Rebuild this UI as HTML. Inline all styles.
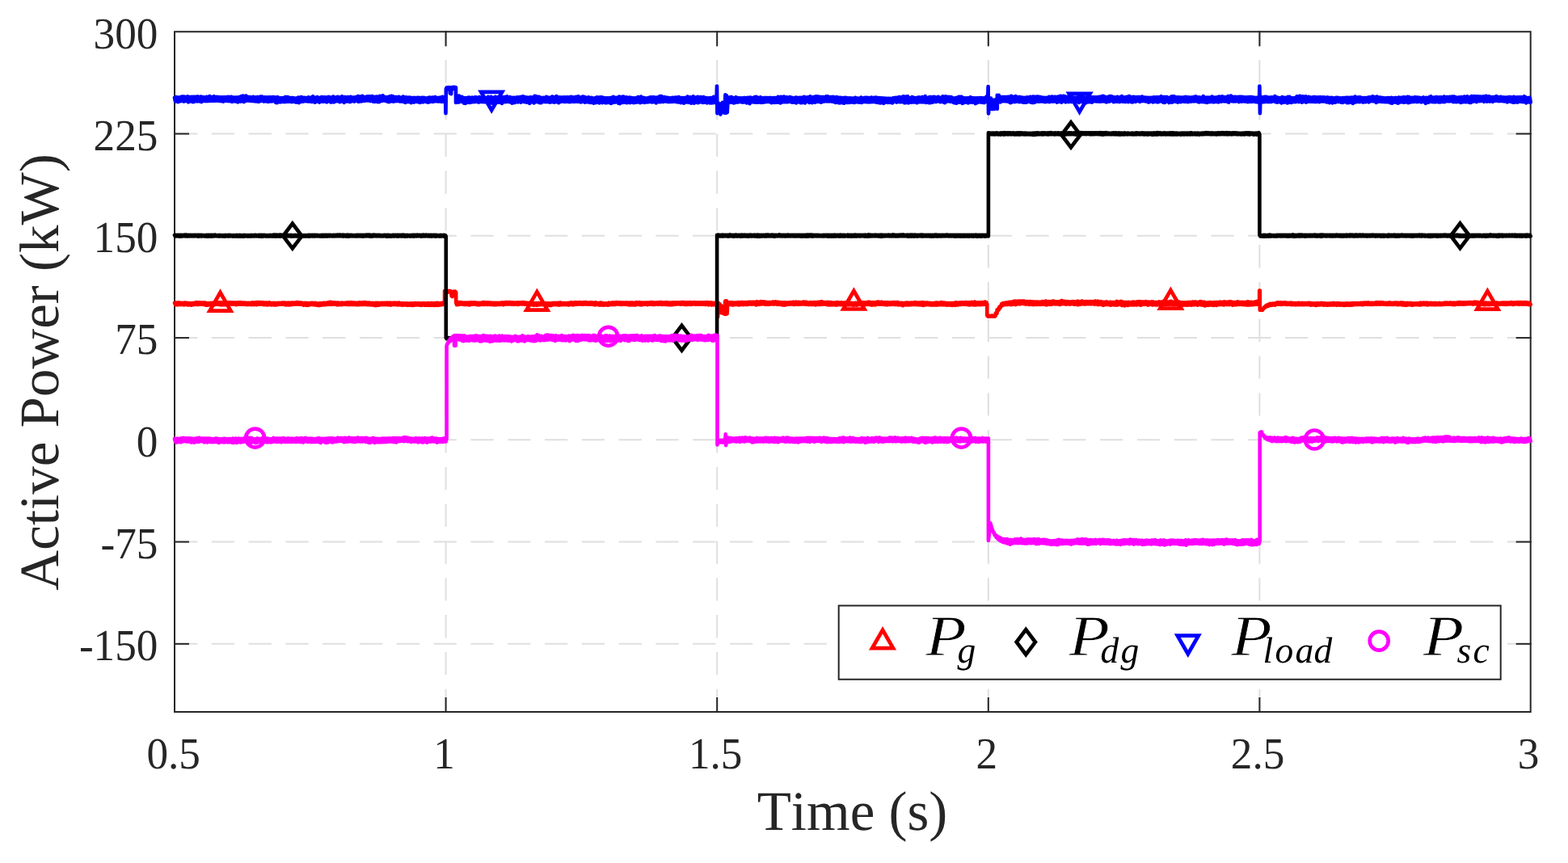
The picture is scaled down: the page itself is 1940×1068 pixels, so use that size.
<!DOCTYPE html>
<html lang="en"><head><meta charset="utf-8"><title>Active Power</title>
<style>html,body{margin:0;padding:0;background:#fff;}body{width:1940px;height:1068px;overflow:hidden;}svg{display:block;}text{font-family:"Liberation Serif","DejaVu Serif",serif;fill:#262626;font-kerning:none;text-rendering:geometricPrecision;}.tk{font-size:54px;}.lb{font-size:69px;}.lg{font-style:italic;fill:#000;}</style></head><body>
<svg width="1940" height="1068" viewBox="0 0 1940 1068">
<rect width="1940" height="1068" fill="#fff"/>
<g stroke="#dfdfdf" stroke-width="2" stroke-dasharray="28.3 17.5" fill="none"><line x1="551.60" y1="881.00" x2="551.60" y2="39.30"/><line x1="887.20" y1="881.00" x2="887.20" y2="39.30"/><line x1="1222.80" y1="881.00" x2="1222.80" y2="39.30"/><line x1="1558.40" y1="881.00" x2="1558.40" y2="39.30"/><line x1="216.00" y1="165.56" x2="1894.00" y2="165.56"/><line x1="216.00" y1="291.81" x2="1894.00" y2="291.81"/><line x1="216.00" y1="418.07" x2="1894.00" y2="418.07"/><line x1="216.00" y1="544.32" x2="1894.00" y2="544.32"/><line x1="216.00" y1="670.58" x2="1894.00" y2="670.58"/><line x1="216.00" y1="796.83" x2="1894.00" y2="796.83"/></g>
<g stroke="#262626" stroke-width="2" fill="none" stroke-linecap="square">
<path d="M216.0,881.0 L216.0,39.3 L1893.7,39.3 L1893.7,881.0 Z"/>
<line x1="551.60" y1="881.0" x2="551.60" y2="864.0"/><line x1="551.60" y1="39.3" x2="551.60" y2="56.3"/>
<line x1="887.20" y1="881.0" x2="887.20" y2="864.0"/><line x1="887.20" y1="39.3" x2="887.20" y2="56.3"/>
<line x1="1222.80" y1="881.0" x2="1222.80" y2="864.0"/><line x1="1222.80" y1="39.3" x2="1222.80" y2="56.3"/>
<line x1="1558.40" y1="881.0" x2="1558.40" y2="864.0"/><line x1="1558.40" y1="39.3" x2="1558.40" y2="56.3"/>
<line x1="216.0" y1="165.56" x2="233.0" y2="165.56"/><line x1="1893.7" y1="165.56" x2="1876.7" y2="165.56"/>
<line x1="216.0" y1="291.81" x2="233.0" y2="291.81"/><line x1="1893.7" y1="291.81" x2="1876.7" y2="291.81"/>
<line x1="216.0" y1="418.07" x2="233.0" y2="418.07"/><line x1="1893.7" y1="418.07" x2="1876.7" y2="418.07"/>
<line x1="216.0" y1="544.32" x2="233.0" y2="544.32"/><line x1="1893.7" y1="544.32" x2="1876.7" y2="544.32"/>
<line x1="216.0" y1="670.58" x2="233.0" y2="670.58"/><line x1="1893.7" y1="670.58" x2="1876.7" y2="670.58"/>
<line x1="216.0" y1="796.83" x2="233.0" y2="796.83"/><line x1="1893.7" y1="796.83" x2="1876.7" y2="796.83"/>
</g>
<polyline points="216.0,374.8 216.9,377.0 217.8,374.7 218.7,377.1 219.6,374.7 220.5,377.2 221.4,374.4 222.3,377.0 223.2,374.9 224.1,377.0 225.0,374.8 225.9,376.9 226.8,374.8 227.7,377.3 228.6,374.5 229.5,376.7 230.4,374.9 231.3,377.1 232.2,374.9 233.1,377.4 234.0,375.0 234.9,377.2 235.8,375.4 236.7,377.6 237.6,375.2 238.5,377.1 239.4,374.9 240.3,376.9 241.2,374.8 242.1,376.6 243.0,374.2 243.9,376.8 244.8,374.5 245.7,376.8 246.6,374.5 247.5,376.6 248.4,374.6 249.3,376.6 250.2,374.6 251.1,376.7 252.0,374.7 252.9,377.0 253.8,374.5 254.7,377.7 255.6,375.1 256.5,377.7 257.4,375.2 258.3,377.3 259.2,375.1 260.1,377.1 261.0,374.9 261.9,376.9 262.8,374.8 263.7,376.9 264.6,374.8 265.5,377.1 266.4,374.5 267.3,376.5 268.2,374.0 269.1,376.7 270.0,374.4 270.9,377.0 271.8,374.4 272.7,377.1 273.6,374.2 274.5,377.4 275.4,374.7 276.3,377.0 277.2,374.7 278.1,377.1 279.0,374.3 279.9,377.1 280.8,374.5 281.7,377.0 282.6,374.3 283.5,376.5 284.4,374.3 285.3,376.3 286.2,374.4 287.1,376.6 288.0,374.5 288.9,376.6 289.8,374.3 290.7,376.7 291.6,374.6 292.5,377.1 293.4,374.3 294.3,376.7 295.2,374.6 296.1,376.7 297.0,374.2 297.9,376.6 298.8,374.5 299.8,376.6 300.7,374.6 301.6,376.7 302.5,374.7 303.4,376.8 304.3,374.8 305.2,376.9 306.1,374.9 307.0,377.0 307.9,374.9 308.8,376.8 309.7,374.8 310.6,377.0 311.5,374.5 312.4,376.8 313.3,374.5 314.2,377.1 315.1,374.5 316.0,377.0 316.9,374.2 317.8,377.2 318.7,374.0 319.6,376.7 320.5,374.2 321.4,376.6 322.3,374.2 323.2,376.5 324.1,374.4 325.0,376.5 325.9,374.3 326.8,377.2 327.7,374.6 328.6,376.9 329.5,374.5 330.4,377.3 331.3,374.8 332.2,377.0 333.1,374.3 334.0,377.0 334.9,374.9 335.8,377.4 336.7,375.0 337.6,377.1 338.5,375.0 339.4,377.3 340.3,375.0 341.2,377.4 342.1,375.0 343.0,377.1 343.9,375.0 344.8,376.8 345.7,374.9 346.6,376.7 347.5,374.8 348.4,376.7 349.3,374.7 350.2,376.6 351.1,374.6 352.0,376.8 352.9,374.7 353.8,377.3 354.7,374.8 355.6,377.0 356.5,374.6 357.4,377.3 358.3,374.8 359.2,377.1 360.1,374.7 361.0,377.1 361.9,374.7 362.8,376.7 363.7,374.7 364.6,376.7 365.5,374.7 366.4,376.5 367.3,374.0 368.2,376.5 369.1,374.3 370.0,376.5 370.9,374.5 371.8,376.6 372.7,374.7 373.6,376.7 374.5,375.0 375.4,377.6 376.3,375.0 377.2,377.3 378.1,375.0 379.0,377.7 379.9,375.0 380.8,377.8 381.7,375.1 382.6,377.4 383.5,375.0 384.4,377.0 385.3,374.9 386.2,376.9 387.1,374.8 388.0,377.1 388.9,375.0 389.8,377.4 390.7,374.9 391.6,377.4 392.5,375.5 393.4,377.9 394.3,375.5 395.2,378.0 396.1,375.2 397.0,377.7 397.9,375.3 398.8,377.3 399.7,374.8 400.6,377.2 401.5,375.0 402.4,377.2 403.3,374.9 404.2,376.9 405.1,374.6 406.0,376.7 406.9,374.1 407.8,376.6 408.7,373.8 409.6,376.8 410.5,374.2 411.4,376.6 412.3,374.4 413.2,376.5 414.1,374.5 415.0,376.5 415.9,374.6 416.8,377.1 417.7,374.5 418.6,377.2 419.5,374.9 420.4,377.0 421.3,374.9 422.2,377.1 423.1,374.6 424.0,376.8 424.9,374.8 425.8,376.5 426.7,374.8 427.6,376.7 428.5,374.6 429.4,376.9 430.3,374.4 431.2,376.9 432.1,374.4 433.0,377.0 433.9,374.3 434.8,376.8 435.7,374.5 436.6,376.9 437.5,374.7 438.4,376.9 439.3,374.7 440.2,377.0 441.1,374.8 442.0,377.0 442.9,374.7 443.8,377.1 444.7,374.3 445.6,376.9 446.5,374.5 447.4,376.9 448.3,374.5 449.2,376.8 450.1,374.1 451.0,376.8 451.9,374.1 452.8,376.8 453.7,374.6 454.6,377.2 455.5,374.7 456.4,377.0 457.3,374.7 458.2,377.1 459.1,375.1 460.0,377.4 460.9,374.9 461.8,377.3 462.7,375.4 463.6,377.9 464.5,374.9 465.4,378.1 466.3,374.8 467.3,377.7 468.2,374.9 469.1,377.6 470.0,375.0 470.9,377.1 471.8,375.0 472.7,377.0 473.6,375.0 474.5,377.0 475.4,375.0 476.3,377.0 477.2,375.0 478.1,376.9 479.0,374.7 479.9,377.2 480.8,374.8 481.7,377.1 482.6,374.6 483.5,377.6 484.4,374.9 485.3,377.0 486.2,375.0 487.1,376.9 488.0,374.7 488.9,376.9 489.8,374.9 490.7,377.2 491.6,374.9 492.5,377.3 493.4,374.5 494.3,377.1 495.2,375.1 496.1,377.3 497.0,375.2 497.9,377.5 498.8,375.4 499.7,377.4 500.6,375.4 501.5,377.4 502.4,375.5 503.3,377.6 504.2,375.5 505.1,377.7 506.0,375.6 506.9,377.7 507.8,375.5 508.7,377.7 509.6,375.5 510.5,377.8 511.4,375.4 512.3,377.7 513.2,375.0 514.1,377.4 515.0,375.3 515.9,377.3 516.8,375.2 517.7,377.3 518.6,375.3 519.5,377.5 520.4,375.3 521.3,377.8 522.2,375.3 523.1,377.4 524.0,375.2 524.9,377.5 525.8,375.3 526.7,377.6 527.6,375.4 528.5,377.6 529.4,375.0 530.3,377.7 531.2,375.4 532.1,377.8 533.0,375.0 533.9,377.7 534.8,375.2 535.7,377.7 536.6,375.4 537.5,377.9 538.4,375.2 539.3,377.6 540.2,374.9 541.1,377.8 542.0,374.9 542.9,377.6 543.8,375.3 544.7,377.4 545.6,375.0 546.5,377.2 547.4,374.9 548.3,376.8 549.2,374.5 550.1,376.7 550.1,360.1 551.0,361.1 552.0,360.1 552.9,361.2 553.9,360.1 554.8,361.5 555.8,359.9 556.7,361.4 557.7,360.2 558.6,361.4 558.6,366.2 559.6,367.1 560.6,366.2 560.6,361.8 561.5,360.7 562.4,361.8 563.3,360.8 564.2,361.8 564.2,374.6 565.1,377.1 566.0,374.0 566.9,377.1 567.8,374.0 568.7,376.6 569.6,374.1 570.5,376.5 571.4,374.3 572.3,376.5 573.2,374.7 574.1,376.9 575.0,374.6 575.9,376.9 576.8,374.6 577.7,376.9 578.6,374.7 579.5,377.2 580.4,374.7 581.3,377.3 582.2,374.3 583.1,376.7 584.0,374.3 584.9,376.6 585.8,374.5 586.7,376.4 587.6,374.3 588.5,376.6 589.4,374.7 590.3,377.0 591.2,374.8 592.1,377.1 593.0,374.9 593.9,377.1 594.8,374.8 595.7,376.7 596.6,374.5 597.5,376.8 598.4,374.0 599.3,376.8 600.2,374.3 601.1,376.6 602.0,374.4 602.9,376.8 603.8,374.5 604.7,376.7 605.6,374.6 606.5,377.0 607.4,374.7 608.3,376.9 609.2,374.8 610.1,377.0 611.0,374.9 611.9,377.1 612.8,374.9 613.7,377.1 614.6,374.9 615.5,377.0 616.4,374.9 617.3,376.9 618.2,374.9 619.1,376.8 620.0,374.6 620.9,376.7 621.8,374.5 622.7,377.2 623.6,374.5 624.5,376.6 625.4,374.2 626.3,376.3 627.2,374.1 628.1,376.5 629.0,374.1 629.9,376.3 630.8,374.2 631.7,376.4 632.6,374.3 633.5,376.6 634.4,374.4 635.3,376.7 636.2,374.6 637.1,376.6 638.0,374.6 638.9,376.4 639.8,374.5 640.7,376.8 641.6,374.4 642.5,376.5 643.4,374.3 644.3,376.4 645.2,374.4 646.1,376.4 647.0,374.0 647.9,376.4 648.8,374.5 649.7,376.7 650.6,374.6 651.5,376.6 652.4,374.8 653.3,376.7 654.2,374.9 655.1,377.0 656.0,374.9 656.9,377.2 657.8,374.6 658.7,377.1 659.6,375.1 660.5,377.6 661.4,375.1 662.3,377.5 663.2,375.1 664.1,377.6 665.0,375.1 665.9,377.4 666.8,375.2 667.7,377.2 668.6,375.1 669.5,377.1 670.4,375.1 671.3,377.1 672.2,375.1 673.1,377.1 674.0,375.2 674.9,377.3 675.8,375.3 676.7,377.7 677.6,375.4 678.5,377.5 679.4,375.3 680.3,378.0 681.2,375.4 682.1,377.9 683.0,375.2 683.9,377.1 684.8,375.0 685.7,377.0 686.6,374.8 687.5,377.0 688.4,375.0 689.3,377.1 690.2,375.0 691.1,377.3 692.0,374.7 692.9,377.4 693.8,374.5 694.7,377.1 695.6,375.1 696.5,377.0 697.4,375.1 698.3,377.0 699.2,375.2 700.1,377.0 701.0,375.2 701.9,377.2 702.8,374.9 703.7,377.3 704.6,375.0 705.5,377.0 706.4,374.3 707.3,377.0 708.2,374.6 709.1,377.3 710.0,374.6 710.9,376.9 711.8,374.2 712.7,376.5 713.6,374.4 714.5,376.6 715.4,374.3 716.3,376.4 717.2,374.1 718.1,376.3 719.0,374.4 719.9,376.6 720.8,374.3 721.7,376.7 722.6,374.2 723.5,376.4 724.4,374.0 725.3,376.4 726.3,374.5 727.2,376.6 728.1,374.6 729.0,376.6 729.9,374.4 730.8,376.5 731.7,374.3 732.6,376.7 733.5,374.7 734.4,376.9 735.3,374.6 736.2,377.3 737.1,374.3 738.0,376.9 738.9,375.0 739.8,377.0 740.7,375.1 741.6,377.4 742.5,374.7 743.4,377.5 744.3,374.6 745.2,377.5 746.1,375.2 747.0,377.6 747.9,375.3 748.8,377.4 749.7,375.3 750.6,377.4 751.5,375.4 752.4,377.6 753.3,374.7 754.2,377.0 755.1,374.8 756.0,376.8 756.9,374.6 757.8,377.0 758.7,374.4 759.6,376.9 760.5,374.5 761.4,376.8 762.3,374.0 763.2,376.5 764.1,374.4 765.0,376.3 765.9,374.3 766.8,376.6 767.7,374.5 768.6,376.9 769.5,374.5 770.4,376.7 771.3,374.6 772.2,376.7 773.1,374.6 774.0,376.7 774.9,374.4 775.8,376.9 776.7,374.7 777.6,377.0 778.5,374.7 779.4,377.4 780.3,374.5 781.2,377.2 782.1,374.5 783.0,377.1 783.9,374.9 784.8,377.4 785.7,374.7 786.6,377.3 787.5,374.2 788.4,376.8 789.3,374.7 790.2,376.8 791.1,374.2 792.0,377.1 792.9,374.6 793.8,377.4 794.7,374.6 795.6,376.8 796.5,374.7 797.4,376.6 798.3,374.6 799.2,376.7 800.1,374.7 801.0,377.0 801.9,374.5 802.8,376.6 803.7,374.6 804.6,376.6 805.5,374.0 806.4,376.6 807.3,374.4 808.2,377.0 809.1,374.4 810.0,376.9 810.9,374.5 811.8,376.5 812.7,374.3 813.6,376.5 814.5,374.3 815.4,376.5 816.3,374.0 817.2,376.4 818.1,374.2 819.0,376.9 819.9,374.3 820.8,376.6 821.7,374.4 822.6,376.7 823.5,374.3 824.4,377.0 825.3,374.1 826.2,377.0 827.1,374.7 828.0,377.1 828.9,374.7 829.8,377.1 830.7,374.7 831.6,377.2 832.5,374.4 833.4,376.9 834.3,374.3 835.2,376.5 836.1,374.5 837.0,376.4 837.9,374.3 838.8,376.4 839.7,374.4 840.6,376.3 841.5,374.4 842.4,376.7 843.3,374.0 844.2,376.4 845.1,374.1 846.0,376.6 846.9,374.2 847.8,376.8 848.7,374.4 849.6,377.0 850.5,374.3 851.4,376.6 852.3,374.5 853.2,376.7 854.1,374.1 855.0,376.8 855.9,374.4 856.8,376.5 857.7,374.4 858.6,376.4 859.5,374.2 860.4,376.5 861.3,374.5 862.2,376.6 863.1,374.5 864.0,376.7 864.9,374.4 865.8,376.5 866.7,374.5 867.6,376.6 868.5,374.5 869.4,376.5 870.3,374.3 871.2,376.6 872.1,374.4 873.0,377.0 873.9,374.1 874.8,376.6 875.7,374.1 876.6,377.3 877.5,374.5 878.4,376.9 879.3,374.3 880.2,377.5 881.1,374.7 882.0,377.2 882.9,374.8 883.8,377.1 884.7,374.8 885.6,376.8 886.5,374.7 887.4,376.9 888.1,392.3 888.1,392.3 888.8,374.8 889.7,385.9 890.6,376.4 891.5,387.0 892.5,378.2 893.4,387.5 894.3,379.2 895.2,387.9 895.6,380.2 895.6,380.2 896.4,388.8 896.4,388.8 897.2,372.6 897.2,372.6 898.0,388.9 898.0,388.9 898.8,372.3 898.8,372.3 899.6,388.4 899.6,388.4 900.4,374.3 901.3,376.9 902.2,374.1 903.1,376.7 904.0,374.5 904.9,377.2 905.8,374.3 906.7,377.5 907.6,374.6 908.5,377.1 909.4,374.5 910.3,377.0 911.2,374.6 912.1,376.9 913.0,374.2 913.9,377.5 914.8,374.3 915.7,377.1 916.6,374.0 917.5,377.0 918.4,374.0 919.3,377.1 920.2,374.3 921.1,376.8 922.0,374.2 922.9,376.8 923.8,374.3 924.7,377.0 925.6,373.9 926.5,376.5 927.4,373.9 928.3,376.5 929.2,373.9 930.1,376.6 931.0,373.8 931.9,376.3 932.8,373.8 933.7,376.5 934.6,373.8 935.5,377.4 936.4,373.3 937.3,376.8 938.2,373.8 939.1,376.8 940.0,373.7 940.8,376.5 941.7,373.2 942.6,376.4 943.5,373.5 944.4,376.1 945.3,373.4 946.2,376.7 947.1,373.8 948.0,376.6 948.9,374.2 949.8,376.6 950.7,374.0 951.6,376.7 952.5,374.0 953.4,376.5 954.3,374.0 955.2,376.2 956.1,373.6 957.0,376.7 957.9,373.6 958.8,376.2 959.7,373.4 960.6,376.6 961.5,373.8 962.4,376.7 963.3,373.9 964.2,376.7 965.1,374.1 966.0,376.9 966.9,374.3 967.8,377.5 968.7,374.3 969.6,377.3 970.5,374.4 971.4,377.6 972.3,374.4 973.2,377.0 974.1,374.5 975.0,376.7 975.9,374.3 976.8,376.7 977.7,374.1 978.6,376.5 979.5,374.0 980.4,376.4 981.3,373.9 982.2,377.0 983.1,373.9 984.0,376.6 984.9,373.7 985.8,376.7 986.7,374.0 987.6,376.7 988.5,373.9 989.4,376.7 990.3,374.1 991.2,376.5 992.1,374.0 993.0,376.4 993.9,373.5 994.8,376.4 995.7,373.8 996.6,376.7 997.5,373.7 998.4,376.6 999.3,374.3 1000.2,377.0 1001.1,374.5 1002.0,376.8 1002.9,374.2 1003.8,377.0 1004.7,374.4 1005.6,376.8 1006.5,374.2 1007.4,376.9 1008.3,374.2 1009.2,377.5 1010.1,374.2 1011.0,376.7 1011.9,373.8 1012.8,377.0 1013.7,374.1 1014.6,376.8 1015.5,373.4 1016.4,376.8 1017.3,373.4 1018.2,376.6 1019.1,374.0 1020.0,376.4 1020.8,374.2 1021.7,376.7 1022.6,374.1 1023.5,377.2 1024.4,373.9 1025.3,377.3 1026.2,374.2 1027.1,377.5 1028.0,374.2 1028.9,377.1 1029.8,374.6 1030.7,377.2 1031.6,374.7 1032.5,377.1 1033.4,374.6 1034.3,377.5 1035.2,374.1 1036.1,377.3 1037.0,374.1 1037.9,376.9 1038.8,374.6 1039.7,377.1 1040.6,374.3 1041.5,377.1 1042.4,374.7 1043.3,377.0 1044.2,374.6 1045.1,376.9 1046.0,374.3 1046.9,377.0 1047.8,374.5 1048.7,377.2 1049.6,374.1 1050.5,377.4 1051.4,374.7 1052.3,377.2 1053.2,374.9 1054.1,377.4 1055.0,375.0 1055.9,377.8 1056.8,375.0 1057.7,377.5 1058.6,374.8 1059.5,377.6 1060.4,374.8 1061.3,377.3 1062.2,374.8 1063.1,376.9 1064.0,374.6 1064.9,377.0 1065.8,374.5 1066.7,376.9 1067.6,374.1 1068.5,376.8 1069.4,374.3 1070.3,376.8 1071.2,374.3 1072.1,376.9 1073.0,374.2 1073.9,376.8 1074.8,373.6 1075.7,377.0 1076.6,374.0 1077.5,377.3 1078.4,374.5 1079.3,377.5 1080.2,374.2 1081.1,377.1 1082.0,374.3 1082.9,377.3 1083.8,374.0 1084.7,376.9 1085.6,373.6 1086.5,376.7 1087.4,373.6 1088.3,376.6 1089.2,374.0 1090.1,376.6 1091.0,373.7 1091.9,376.5 1092.8,374.3 1093.7,376.9 1094.6,374.1 1095.5,377.0 1096.4,374.4 1097.3,377.3 1098.2,374.2 1099.1,377.0 1100.0,374.5 1100.9,376.8 1101.7,374.5 1102.6,376.9 1103.5,374.3 1104.4,376.7 1105.3,374.1 1106.2,376.8 1107.1,374.2 1108.0,376.9 1108.9,374.1 1109.8,377.0 1110.7,374.0 1111.6,377.3 1112.5,374.6 1113.4,377.2 1114.3,374.8 1115.2,377.4 1116.1,374.9 1117.0,378.2 1117.9,375.0 1118.8,377.3 1119.7,374.8 1120.6,377.1 1121.5,374.5 1122.4,377.4 1123.3,374.7 1124.2,377.3 1125.1,374.8 1126.0,377.2 1126.9,374.7 1127.8,377.1 1128.7,374.6 1129.6,376.9 1130.5,374.5 1131.4,376.9 1132.3,374.0 1133.2,377.0 1134.1,374.5 1135.0,377.1 1135.9,374.5 1136.8,377.2 1137.7,374.6 1138.6,377.3 1139.5,374.4 1140.4,377.3 1141.3,374.2 1142.2,377.9 1143.1,374.4 1144.0,377.5 1144.9,374.6 1145.8,377.2 1146.7,374.5 1147.6,377.0 1148.5,374.8 1149.4,377.2 1150.3,374.9 1151.2,377.4 1152.1,375.1 1153.0,377.4 1153.9,375.1 1154.8,377.4 1155.7,375.0 1156.6,377.5 1157.5,374.6 1158.4,377.5 1159.3,374.5 1160.2,377.3 1161.1,374.9 1162.0,377.1 1162.9,374.7 1163.8,377.0 1164.7,374.1 1165.6,377.1 1166.5,374.5 1167.4,377.2 1168.3,374.7 1169.2,377.2 1170.1,374.9 1171.0,377.6 1171.9,375.0 1172.8,377.5 1173.7,375.1 1174.6,377.5 1175.5,375.1 1176.4,377.5 1177.3,375.0 1178.2,377.8 1179.1,375.0 1180.0,377.4 1180.9,374.9 1181.7,377.8 1182.6,374.3 1183.5,377.4 1184.4,374.7 1185.3,377.4 1186.2,374.6 1187.1,377.0 1188.0,374.4 1188.9,376.8 1189.8,374.3 1190.7,376.6 1191.6,374.3 1192.5,376.7 1193.4,374.3 1194.3,376.7 1195.2,374.0 1196.1,376.9 1197.0,374.5 1197.9,377.1 1198.8,374.3 1199.7,377.5 1200.6,374.4 1201.5,376.8 1202.4,373.9 1203.3,377.1 1204.2,374.0 1205.1,377.4 1206.0,373.5 1206.9,377.5 1207.8,374.3 1208.7,377.1 1209.6,374.5 1210.5,376.8 1211.4,374.5 1212.3,377.2 1213.2,374.4 1214.1,377.0 1215.0,374.2 1215.9,376.8 1216.8,374.1 1217.7,376.7 1218.6,373.5 1219.5,376.8 1220.4,374.2 1221.3,377.0 1221.3,390.5 1222.2,391.5 1223.0,390.7 1223.9,391.6 1224.8,390.8 1225.7,391.5 1226.5,390.7 1227.4,391.6 1228.3,390.7 1229.2,391.5 1230.0,390.8 1230.9,391.5 1231.8,390.6 1231.8,387.8 1232.7,387.0 1233.6,387.8 1233.6,383.3 1234.7,384.4 1235.8,383.4 1235.8,381.0 1236.6,379.6 1237.5,381.1 1238.3,379.3 1238.3,379.8 1239.2,376.0 1240.0,378.0 1240.9,375.1 1241.8,377.3 1242.7,374.8 1243.5,376.9 1244.4,374.6 1245.3,376.8 1246.2,374.5 1247.0,376.9 1247.9,374.4 1248.8,376.5 1248.8,373.9 1249.7,376.9 1250.6,373.8 1251.5,377.2 1252.4,373.5 1253.3,376.6 1254.2,372.9 1255.1,376.7 1256.0,372.7 1256.9,377.1 1257.8,372.9 1258.7,376.3 1259.6,372.7 1260.5,376.2 1261.4,372.5 1262.3,376.3 1263.2,372.7 1264.1,375.9 1265.0,372.5 1265.9,376.0 1266.8,372.5 1267.7,376.1 1268.6,373.0 1269.5,376.6 1270.4,373.0 1271.3,376.2 1272.2,373.3 1273.1,377.0 1274.0,373.1 1274.9,376.7 1275.8,373.3 1276.7,376.7 1277.6,373.4 1278.5,377.1 1279.4,373.5 1280.3,376.8 1281.2,373.7 1282.1,377.0 1283.0,373.7 1283.9,376.6 1284.8,373.7 1285.7,376.8 1286.6,373.8 1287.5,376.8 1288.4,373.6 1289.3,376.6 1290.2,373.1 1291.1,376.6 1292.0,373.3 1292.9,376.8 1293.8,372.6 1294.7,377.4 1295.6,373.2 1296.5,376.5 1297.4,373.2 1298.3,376.8 1299.2,373.2 1300.1,376.7 1301.0,373.2 1301.9,376.6 1302.8,372.5 1303.7,376.0 1304.6,372.9 1305.5,376.4 1306.4,373.3 1307.3,376.3 1308.2,373.3 1309.1,376.3 1310.0,373.4 1310.9,377.0 1311.8,372.9 1312.7,376.6 1313.6,372.0 1314.5,376.1 1315.4,372.8 1316.3,376.1 1317.2,372.9 1318.1,376.5 1319.0,373.1 1319.9,376.6 1320.8,373.2 1321.7,376.2 1322.6,373.4 1323.5,376.7 1324.4,373.5 1325.3,376.2 1326.2,373.3 1327.0,376.2 1327.9,373.2 1328.8,376.7 1329.7,373.4 1330.6,376.7 1331.5,373.5 1332.4,376.9 1333.3,372.7 1334.2,377.2 1335.1,373.2 1336.0,376.7 1336.9,373.2 1337.8,376.4 1338.7,372.6 1339.6,376.2 1340.5,373.1 1341.4,376.5 1342.3,373.2 1343.2,376.3 1344.1,373.2 1345.0,376.2 1345.9,373.1 1346.8,376.2 1347.7,373.2 1348.6,376.1 1349.5,373.2 1350.4,376.3 1351.3,373.2 1352.2,375.9 1353.1,373.3 1354.0,376.7 1354.9,372.5 1355.8,376.2 1356.7,373.0 1357.6,376.8 1358.5,372.7 1359.4,376.9 1360.3,373.5 1361.2,376.7 1362.1,373.2 1363.0,376.9 1363.9,373.8 1364.8,377.8 1365.7,373.9 1366.6,377.3 1367.5,373.9 1368.4,377.0 1369.3,373.4 1370.2,377.0 1371.1,374.2 1372.0,377.0 1372.9,373.9 1373.8,377.7 1374.7,373.9 1375.6,377.3 1376.5,374.0 1377.4,377.2 1378.3,374.2 1379.2,377.5 1380.1,373.8 1381.0,377.4 1381.9,372.9 1382.8,377.5 1383.7,373.6 1384.6,376.8 1385.5,373.7 1386.4,377.0 1387.3,372.9 1388.2,378.0 1389.1,373.7 1390.0,377.8 1390.9,373.9 1391.8,378.3 1392.7,374.1 1393.6,377.4 1394.5,374.1 1395.4,377.9 1396.3,373.9 1397.2,377.3 1398.1,374.1 1399.0,377.4 1399.9,374.2 1400.8,377.4 1401.7,373.5 1402.6,377.5 1403.5,373.9 1404.4,377.1 1405.3,373.9 1406.2,377.5 1407.1,373.3 1408.0,376.9 1408.9,373.3 1409.8,377.1 1410.7,373.2 1411.6,377.7 1412.5,373.6 1413.4,376.9 1414.3,373.5 1415.2,376.7 1416.1,373.7 1417.0,376.7 1417.9,373.2 1418.8,377.0 1419.7,373.8 1420.6,377.6 1421.5,373.7 1422.4,376.7 1423.3,373.8 1424.2,377.0 1425.1,373.4 1426.0,377.5 1426.9,373.5 1427.8,377.0 1428.7,374.3 1429.6,377.4 1430.5,373.9 1431.4,377.5 1432.3,374.3 1433.2,377.2 1434.1,373.4 1435.0,377.1 1435.9,373.8 1436.8,377.0 1437.7,373.7 1438.6,376.9 1439.5,372.9 1440.4,376.6 1441.3,373.5 1442.2,377.2 1443.1,373.4 1444.0,376.7 1444.9,373.5 1445.8,376.9 1446.7,373.5 1447.6,376.6 1448.5,372.8 1449.4,376.6 1450.3,373.4 1451.2,376.9 1452.1,373.6 1453.0,376.8 1453.9,373.7 1454.8,377.0 1455.7,373.8 1456.6,377.0 1457.5,373.8 1458.4,376.6 1459.3,373.7 1460.2,377.4 1461.1,374.3 1462.0,377.4 1462.9,374.3 1463.8,377.6 1464.7,374.4 1465.6,377.5 1466.5,374.4 1467.4,377.6 1468.3,374.3 1469.2,377.6 1470.1,374.1 1471.0,377.5 1471.9,374.0 1472.8,377.3 1473.7,374.1 1474.6,377.6 1475.5,373.7 1476.4,377.2 1477.3,373.7 1478.2,377.1 1479.1,373.6 1480.0,376.9 1480.8,374.0 1481.7,377.7 1482.6,374.0 1483.5,376.9 1484.4,373.3 1485.3,377.1 1486.2,373.2 1487.1,377.4 1488.0,374.1 1488.9,377.6 1489.8,373.7 1490.7,378.4 1491.6,374.5 1492.5,377.9 1493.4,374.7 1494.3,377.7 1495.2,374.4 1496.1,377.6 1497.0,374.1 1497.9,377.4 1498.8,374.4 1499.7,377.5 1500.6,374.4 1501.5,378.0 1502.4,374.2 1503.3,377.4 1504.2,374.0 1505.1,377.9 1506.0,374.2 1506.9,377.2 1507.8,374.0 1508.7,377.0 1509.6,373.6 1510.5,376.8 1511.4,373.9 1512.3,377.0 1513.2,373.8 1514.1,377.5 1515.0,373.4 1515.9,377.0 1516.8,373.8 1517.7,377.0 1518.6,373.8 1519.5,377.0 1520.4,373.5 1521.3,377.1 1522.2,373.3 1523.1,376.7 1524.0,373.7 1524.9,377.7 1525.8,374.1 1526.7,377.2 1527.6,374.0 1528.5,377.2 1529.4,374.0 1530.3,377.1 1531.2,373.4 1532.1,377.0 1533.0,373.8 1533.9,376.9 1534.8,374.1 1535.7,376.9 1536.6,373.9 1537.5,377.0 1538.4,374.0 1539.3,377.2 1540.2,374.1 1541.1,377.2 1542.0,373.9 1542.9,377.4 1543.8,373.3 1544.7,377.4 1545.6,373.9 1546.5,377.5 1547.4,373.8 1548.3,377.2 1549.2,374.0 1550.1,377.2 1551.0,374.0 1551.9,377.0 1552.8,373.7 1553.7,376.7 1554.6,373.2 1555.5,376.7 1556.4,372.7 1557.3,376.3 1558.2,373.4 1558.2,359.5 1558.8,359.5 1558.8,383.7 1559.6,383.1 1560.4,383.7 1561.2,383.2 1562.0,383.7 1562.0,383.1 1562.9,382.5 1563.8,380.5 1564.7,380.9 1565.6,378.8 1566.6,379.6 1567.5,377.6 1568.4,379.1 1569.3,376.8 1570.2,378.3 1571.1,376.0 1572.0,377.9 1572.9,375.8 1573.8,377.6 1574.8,375.7 1575.7,377.3 1576.6,375.7 1577.5,377.6 1578.4,375.2 1578.4,377.0 1579.3,374.7 1580.2,376.7 1581.1,374.4 1582.0,376.6 1582.9,374.6 1583.8,376.6 1584.7,374.5 1585.6,376.9 1586.5,374.5 1587.4,376.4 1588.3,374.6 1589.2,376.4 1590.1,374.3 1591.0,376.5 1591.9,374.7 1592.8,376.9 1593.7,374.8 1594.6,376.6 1595.5,374.9 1596.4,376.9 1597.3,374.6 1598.2,377.1 1599.1,375.0 1600.0,377.0 1600.9,375.1 1601.8,377.2 1602.7,375.2 1603.6,377.2 1604.5,375.1 1605.4,377.2 1606.3,374.9 1607.2,377.0 1608.1,375.0 1609.0,377.1 1609.9,375.2 1610.8,377.1 1611.7,375.0 1612.6,377.1 1613.5,375.1 1614.4,377.0 1615.3,375.1 1616.2,376.9 1617.1,375.1 1618.0,377.0 1618.9,375.0 1619.8,376.9 1620.7,374.8 1621.6,377.6 1622.5,375.2 1623.4,377.3 1624.3,375.4 1625.2,377.3 1626.1,375.5 1627.0,377.7 1627.9,375.5 1628.8,377.8 1629.7,375.0 1630.6,377.4 1631.6,375.3 1632.5,377.4 1633.4,375.2 1634.3,377.1 1635.2,375.0 1636.1,377.2 1637.0,375.1 1637.9,377.7 1638.8,375.2 1639.7,377.4 1640.6,375.7 1641.5,377.6 1642.4,375.7 1643.3,377.5 1644.2,375.6 1645.1,377.5 1646.0,375.5 1646.9,377.4 1647.8,375.4 1648.7,377.4 1649.6,374.9 1650.5,377.4 1651.4,375.2 1652.3,377.3 1653.2,375.3 1654.1,377.6 1655.0,375.0 1655.9,377.4 1656.8,375.5 1657.7,377.5 1658.6,375.5 1659.5,377.5 1660.4,375.7 1661.3,377.6 1662.2,375.7 1663.1,377.9 1664.0,375.6 1664.9,377.6 1665.8,375.5 1666.7,377.5 1667.6,375.4 1668.5,377.6 1669.4,375.7 1670.3,377.6 1671.2,375.5 1672.1,377.6 1673.0,375.2 1673.9,377.4 1674.8,375.1 1675.7,377.1 1676.6,375.1 1677.5,376.8 1678.4,375.1 1679.3,377.0 1680.2,375.2 1681.1,376.8 1682.0,375.1 1682.9,376.8 1683.8,375.0 1684.7,377.1 1685.6,375.0 1686.5,377.1 1687.4,374.6 1688.3,376.7 1689.2,374.7 1690.1,376.6 1691.0,374.7 1691.9,376.6 1692.8,374.4 1693.7,376.7 1694.6,374.8 1695.5,376.9 1696.4,374.9 1697.3,376.9 1698.2,374.9 1699.1,376.7 1700.0,374.8 1700.9,376.5 1701.8,374.6 1702.7,376.7 1703.6,374.2 1704.5,376.7 1705.4,374.6 1706.3,376.4 1707.2,374.2 1708.1,376.7 1709.0,374.5 1709.9,376.4 1710.8,374.4 1711.7,376.5 1712.6,374.8 1713.5,376.7 1714.4,374.8 1715.3,376.8 1716.2,374.8 1717.1,376.9 1718.0,374.7 1718.9,376.6 1719.8,374.5 1720.7,376.9 1721.6,374.8 1722.5,376.8 1723.4,374.8 1724.3,376.9 1725.2,374.7 1726.1,376.7 1727.0,374.7 1727.9,376.8 1728.8,374.7 1729.7,377.2 1730.6,375.0 1731.5,376.9 1732.4,374.5 1733.3,377.0 1734.2,374.5 1735.1,377.4 1736.1,374.7 1737.0,377.5 1737.9,374.9 1738.8,377.6 1739.7,375.2 1740.6,377.7 1741.5,374.8 1742.4,377.1 1743.3,375.3 1744.2,377.1 1745.1,375.0 1746.0,377.5 1746.9,375.4 1747.8,377.6 1748.7,375.4 1749.6,377.1 1750.5,375.4 1751.4,377.0 1752.3,375.4 1753.2,377.1 1754.1,375.3 1755.0,377.1 1755.9,375.1 1756.8,377.5 1757.7,374.6 1758.6,377.1 1759.5,375.0 1760.4,376.8 1761.3,374.6 1762.2,376.8 1763.1,375.0 1764.0,376.9 1764.9,374.7 1765.8,377.3 1766.7,374.9 1767.6,377.1 1768.5,375.1 1769.4,376.8 1770.3,374.8 1771.2,377.0 1772.1,375.1 1773.0,377.0 1773.9,375.1 1774.8,377.2 1775.7,375.0 1776.6,377.2 1777.5,375.3 1778.4,377.0 1779.3,375.2 1780.2,377.0 1781.1,374.8 1782.0,377.0 1782.9,375.3 1783.8,377.0 1784.7,375.3 1785.6,376.9 1786.5,374.9 1787.4,376.7 1788.3,374.7 1789.2,376.6 1790.1,374.6 1791.0,376.6 1791.9,374.8 1792.8,376.5 1793.7,374.7 1794.6,376.7 1795.5,374.7 1796.4,376.8 1797.3,375.0 1798.2,376.9 1799.1,374.7 1800.0,377.1 1800.9,374.9 1801.8,376.5 1802.7,374.7 1803.6,376.5 1804.5,374.2 1805.4,376.5 1806.3,374.1 1807.2,376.5 1808.1,374.4 1809.0,376.5 1809.9,374.3 1810.8,376.5 1811.7,374.3 1812.6,376.4 1813.5,374.3 1814.4,376.3 1815.3,374.3 1816.2,376.2 1817.1,374.2 1818.0,376.1 1818.9,374.2 1819.8,376.0 1820.7,374.2 1821.6,376.3 1822.5,374.1 1823.4,376.3 1824.3,373.6 1825.2,376.2 1826.1,373.8 1827.0,376.3 1827.9,373.9 1828.8,376.5 1829.7,374.4 1830.6,376.7 1831.5,374.2 1832.4,376.8 1833.3,374.9 1834.2,376.9 1835.1,374.9 1836.0,377.1 1836.9,374.7 1837.8,377.1 1838.7,374.6 1839.6,376.9 1840.5,375.0 1841.5,377.0 1842.4,374.9 1843.3,377.0 1844.2,374.9 1845.1,376.9 1846.0,374.9 1846.9,376.7 1847.8,374.8 1848.7,376.9 1849.6,374.8 1850.5,376.9 1851.4,374.5 1852.3,376.8 1853.2,374.8 1854.1,376.7 1855.0,374.8 1855.9,376.7 1856.8,374.8 1857.7,376.3 1858.6,374.7 1859.5,376.7 1860.4,374.7 1861.3,376.7 1862.2,374.7 1863.1,376.8 1864.0,374.6 1864.9,376.6 1865.8,374.6 1866.7,376.4 1867.6,374.7 1868.5,376.3 1869.4,374.1 1870.3,376.3 1871.2,374.3 1872.1,376.9 1873.0,374.5 1873.9,376.5 1874.8,374.5 1875.7,376.3 1876.6,374.4 1877.5,376.3 1878.4,374.2 1879.3,376.6 1880.2,374.2 1881.1,376.4 1882.0,374.1 1882.9,376.4 1883.8,374.4 1884.7,376.7 1885.6,374.1 1886.5,376.3 1887.4,374.2 1888.3,376.5 1889.2,374.4 1890.1,376.5 1891.0,374.7 1891.9,377.0 1892.8,374.7 1893.7,376.9" fill="none" stroke="#ff0000" stroke-width="4.6" stroke-linejoin="round" stroke-linecap="round"/>
<polygon points="272.50,362.04 285.50,384.56 259.50,384.56" fill="none" stroke="#ff0000" stroke-width="4.7" stroke-linejoin="miter"/>
<polygon points="664.40,361.14 677.40,383.66 651.40,383.66" fill="none" stroke="#ff0000" stroke-width="4.7" stroke-linejoin="miter"/>
<polygon points="1056.40,359.99 1069.40,382.51 1043.40,382.51" fill="none" stroke="#ff0000" stroke-width="4.7" stroke-linejoin="miter"/>
<polygon points="1448.40,359.19 1461.40,381.71 1435.40,381.71" fill="none" stroke="#ff0000" stroke-width="4.7" stroke-linejoin="miter"/>
<polygon points="1840.40,360.19 1853.40,382.71 1827.40,382.71" fill="none" stroke="#ff0000" stroke-width="4.7" stroke-linejoin="miter"/>
<polyline points="216.0,291.0 216.9,292.5 217.8,291.0 218.7,292.2 219.6,291.0 220.5,292.2 221.4,290.9 222.3,292.5 223.2,290.9 224.1,292.5 225.0,290.9 225.9,292.3 226.8,290.9 227.7,292.1 228.6,290.8 229.5,292.3 230.4,290.6 231.3,292.4 232.2,290.9 233.1,292.4 234.0,291.0 234.9,292.2 235.8,291.0 236.7,292.2 237.6,291.0 238.5,292.2 239.4,291.0 240.3,292.2 241.2,290.8 242.1,292.2 243.0,291.0 243.9,292.3 244.8,290.9 245.7,292.6 246.6,290.8 247.5,292.2 248.4,290.8 249.3,292.5 250.2,291.0 251.1,292.1 252.0,291.1 252.9,292.3 253.8,291.1 254.7,292.3 255.6,291.0 256.5,292.7 257.4,290.9 258.3,292.5 259.2,290.9 260.1,292.3 261.0,290.9 261.9,292.5 262.8,290.8 263.7,292.4 264.6,290.9 265.5,292.1 266.4,290.8 267.3,292.2 268.2,291.1 269.1,292.2 270.0,291.1 270.9,292.4 271.8,290.9 272.7,292.3 273.6,291.1 274.5,292.3 275.4,291.1 276.3,292.4 277.2,291.1 278.1,292.5 279.0,291.0 279.9,292.4 280.8,291.1 281.7,292.3 282.6,290.9 283.5,292.3 284.4,290.9 285.3,292.3 286.2,291.1 287.1,292.4 288.0,291.2 288.9,292.6 289.8,291.2 290.7,292.4 291.6,291.1 292.5,292.4 293.4,290.9 294.3,292.5 295.2,291.1 296.1,292.5 297.0,290.9 297.9,292.5 298.8,291.2 299.7,292.5 300.6,291.2 301.5,292.5 302.4,291.0 303.3,292.4 304.2,291.1 305.1,292.3 306.0,291.1 306.9,292.3 307.8,291.1 308.7,292.3 309.6,291.1 310.5,292.3 311.4,291.0 312.3,292.4 313.2,291.1 314.1,292.4 315.0,291.0 315.9,292.2 316.8,290.9 317.7,292.4 318.6,291.2 319.5,292.3 320.4,290.8 321.3,292.5 322.2,291.0 323.1,292.7 324.0,291.0 324.9,292.5 325.8,291.0 326.7,292.4 327.6,291.0 328.5,292.3 329.4,291.2 330.3,292.2 331.2,291.1 332.1,292.4 333.0,291.1 333.9,292.3 334.8,291.0 335.7,292.3 336.6,291.1 337.5,292.3 338.4,290.7 339.3,292.4 340.2,290.7 341.1,292.6 342.0,290.7 342.9,292.4 343.8,291.0 344.7,292.4 345.6,290.7 346.5,292.6 347.4,290.6 348.3,292.3 349.2,291.0 350.1,292.6 351.0,291.0 351.9,292.2 352.8,291.1 353.7,292.3 354.6,291.2 355.5,292.3 356.4,290.9 357.3,292.3 358.2,291.1 359.1,292.3 360.0,291.0 360.9,292.6 361.8,291.1 362.7,292.3 363.6,291.1 364.5,292.3 365.4,291.0 366.3,292.3 367.2,291.1 368.1,292.2 369.0,290.9 369.9,292.3 370.8,290.9 371.7,292.6 372.6,291.1 373.5,292.4 374.4,291.1 375.3,292.3 376.2,291.1 377.1,292.3 378.0,291.1 378.9,292.3 379.8,291.1 380.7,292.3 381.6,290.9 382.5,292.6 383.4,291.0 384.4,292.3 385.3,291.0 386.2,292.3 387.1,291.0 388.0,292.3 388.9,291.0 389.8,292.4 390.7,291.0 391.6,292.2 392.5,291.0 393.4,292.2 394.3,291.1 395.2,292.3 396.1,291.1 397.0,292.4 397.9,290.9 398.8,292.3 399.7,291.0 400.6,292.5 401.5,291.0 402.4,292.3 403.3,290.8 404.2,292.4 405.1,290.9 406.0,292.3 406.9,290.9 407.8,292.3 408.7,290.8 409.6,292.2 410.5,291.1 411.4,292.3 412.3,291.0 413.2,292.2 414.1,291.0 415.0,292.2 415.9,290.8 416.8,292.1 417.7,290.8 418.6,292.1 419.5,290.7 420.4,292.2 421.3,290.7 422.2,292.2 423.1,290.8 424.0,292.4 424.9,290.7 425.8,292.3 426.7,290.9 427.6,292.3 428.5,291.0 429.4,292.5 430.3,290.7 431.2,292.6 432.1,290.9 433.0,292.3 433.9,290.9 434.8,292.2 435.7,291.0 436.6,292.2 437.5,291.1 438.4,292.2 439.3,291.1 440.2,292.3 441.1,290.9 442.0,292.3 442.9,290.9 443.8,292.4 444.7,291.0 445.6,292.3 446.5,291.0 447.4,292.2 448.3,291.0 449.2,292.5 450.1,290.9 451.0,292.3 451.9,290.9 452.8,292.2 453.7,290.6 454.6,292.1 455.5,290.8 456.4,292.3 457.3,290.7 458.2,292.5 459.1,290.8 460.0,292.5 460.9,290.8 461.8,292.3 462.7,290.6 463.6,292.1 464.5,290.9 465.4,292.3 466.3,291.0 467.2,292.1 468.1,291.0 469.0,292.2 469.9,290.9 470.8,292.2 471.7,291.1 472.6,292.2 473.5,291.1 474.4,292.2 475.3,290.8 476.2,292.2 477.1,291.0 478.0,292.5 478.9,290.9 479.8,292.6 480.7,290.9 481.6,292.4 482.5,291.1 483.4,292.6 484.3,291.1 485.2,292.4 486.1,291.0 487.0,292.3 487.9,290.8 488.8,292.3 489.7,291.0 490.6,292.3 491.5,291.0 492.4,292.6 493.3,291.0 494.2,292.4 495.1,291.0 496.0,292.3 496.9,290.9 497.8,292.3 498.7,290.7 499.6,292.3 500.5,290.8 501.4,292.6 502.3,291.1 503.2,292.3 504.1,290.9 505.0,292.3 505.9,291.1 506.8,292.4 507.7,291.1 508.6,292.3 509.5,291.0 510.4,292.3 511.3,291.0 512.2,292.6 513.1,290.9 514.0,292.2 514.9,290.9 515.8,292.4 516.7,290.7 517.6,292.2 518.5,290.8 519.4,292.2 520.3,291.0 521.2,292.5 522.1,290.9 523.0,292.3 523.9,290.6 524.8,292.3 525.7,290.9 526.6,292.4 527.5,290.7 528.4,292.2 529.3,290.8 530.2,292.4 531.1,291.0 532.0,292.4 532.9,290.8 533.8,292.5 534.7,290.9 535.6,292.3 536.5,291.0 537.4,292.3 538.3,290.9 539.2,292.5 540.1,291.0 541.0,292.4 541.9,291.1 542.8,292.3 543.7,291.2 544.6,292.3 545.5,291.0 546.4,292.4 547.3,291.1 548.2,292.3 549.1,290.8 550.0,292.3 550.9,291.1 551.8,292.5 551.8,418.1 552.7,419.1 553.6,418.0 554.5,419.2 555.4,418.2 556.3,419.1 557.2,418.2 558.1,419.1 559.0,418.1 559.9,419.0 560.8,418.1 561.7,419.0 562.6,418.1 563.5,419.1 564.4,418.0 565.3,419.0 566.2,418.0 567.1,419.0 568.0,417.9 568.9,419.0 569.8,418.1 570.7,419.0 571.6,418.2 572.5,419.1 573.4,418.2 574.3,419.0 575.2,418.2 576.1,419.0 577.0,418.2 577.9,419.2 578.8,418.1 579.7,419.0 580.6,418.1 581.5,419.1 582.4,418.0 583.3,419.1 584.2,418.2 585.1,419.2 586.0,418.1 586.9,419.1 587.8,418.0 588.7,419.3 589.6,417.9 590.5,419.1 591.4,417.9 592.3,419.1 593.2,418.0 594.0,419.0 594.9,418.2 595.8,419.1 596.7,418.2 597.6,419.1 598.5,418.1 599.4,419.0 600.3,418.0 601.2,419.0 602.1,418.1 603.0,419.3 603.9,418.2 604.8,419.1 605.7,418.2 606.6,419.1 607.5,418.2 608.4,419.1 609.3,418.2 610.2,419.1 611.1,418.1 612.0,419.1 612.9,418.1 613.8,419.1 614.7,418.1 615.6,419.2 616.5,418.1 617.4,419.0 618.3,417.9 619.2,419.0 620.1,418.1 621.0,419.1 621.9,418.0 622.8,419.0 623.7,418.2 624.6,419.1 625.5,418.2 626.4,419.1 627.3,418.2 628.2,419.0 629.1,418.1 630.0,419.0 630.9,418.1 631.8,419.0 632.7,418.1 633.6,419.1 634.5,417.9 635.4,419.0 636.3,417.9 637.2,419.0 638.1,418.1 639.0,419.0 639.9,418.1 640.8,419.0 641.7,418.0 642.6,418.9 643.5,418.1 644.4,418.9 645.3,417.9 646.2,419.0 647.1,418.0 648.0,419.0 648.9,418.1 649.8,419.1 650.7,418.1 651.6,419.2 652.5,418.1 653.4,419.1 654.3,418.1 655.2,419.1 656.1,418.1 657.0,419.0 657.9,418.1 658.8,419.0 659.7,417.9 660.6,419.0 661.5,418.0 662.4,419.0 663.3,418.1 664.2,419.1 665.1,418.3 666.0,419.0 666.9,418.3 667.8,419.1 668.7,418.3 669.6,419.1 670.5,418.2 671.4,419.1 672.3,418.1 673.2,419.1 674.1,418.0 675.0,419.0 675.9,418.2 676.8,419.0 677.6,418.1 678.5,419.1 679.4,418.1 680.3,419.0 681.2,418.1 682.1,419.0 683.0,418.0 683.9,419.0 684.8,418.0 685.7,419.1 686.6,418.1 687.5,419.1 688.4,418.1 689.3,419.1 690.2,418.1 691.1,419.1 692.0,417.9 692.9,419.2 693.8,418.1 694.7,419.0 695.6,418.1 696.5,419.2 697.4,418.1 698.3,419.1 699.2,418.1 700.1,419.2 701.0,418.1 701.9,419.1 702.8,418.0 703.7,419.0 704.6,417.9 705.5,419.0 706.4,418.1 707.3,419.0 708.2,418.0 709.1,418.9 710.0,418.1 710.9,419.0 711.8,418.1 712.7,418.9 713.6,418.1 714.5,419.0 715.4,418.1 716.3,419.0 717.2,418.0 718.1,418.9 719.0,418.1 719.9,418.9 720.8,418.0 721.7,418.9 722.6,417.8 723.5,418.9 724.4,418.0 725.3,419.0 726.2,417.8 727.1,419.0 728.0,418.0 728.9,419.0 729.8,418.1 730.7,419.0 731.6,418.1 732.5,419.2 733.4,418.1 734.3,419.0 735.2,417.9 736.1,419.2 737.0,418.0 737.9,419.1 738.8,418.0 739.7,418.9 740.6,418.0 741.5,419.0 742.4,418.0 743.3,419.0 744.2,418.0 745.1,419.0 746.0,418.0 746.9,418.9 747.8,418.0 748.7,418.9 749.6,418.1 750.5,419.0 751.4,418.1 752.3,419.1 753.2,418.2 754.1,419.2 755.0,418.2 755.9,419.1 756.8,418.1 757.7,419.2 758.6,418.1 759.5,419.1 760.4,418.1 761.3,419.1 762.1,418.1 763.0,419.0 763.9,418.0 764.8,419.0 765.7,418.2 766.6,419.1 767.5,418.1 768.4,419.1 769.3,418.0 770.2,418.9 771.1,418.1 772.0,419.0 772.9,418.1 773.8,419.1 774.7,418.1 775.6,419.0 776.5,417.9 777.4,419.0 778.3,417.8 779.2,419.2 780.1,418.1 781.0,419.1 781.9,418.0 782.8,419.0 783.7,418.1 784.6,419.0 785.5,418.1 786.4,418.9 787.3,418.0 788.2,419.0 789.1,418.0 790.0,418.9 790.9,418.0 791.8,419.0 792.7,418.1 793.6,419.0 794.5,417.9 795.4,419.0 796.3,418.1 797.2,419.1 798.1,418.0 799.0,419.0 799.9,418.1 800.8,419.1 801.7,417.9 802.6,419.1 803.5,418.1 804.4,419.1 805.3,417.9 806.2,419.0 807.1,418.0 808.0,419.0 808.9,418.2 809.8,419.0 810.7,418.2 811.6,419.1 812.5,418.1 813.4,419.1 814.3,418.1 815.2,419.0 816.1,418.2 817.0,419.1 817.9,418.1 818.8,419.0 819.7,418.2 820.6,419.1 821.5,418.2 822.4,419.0 823.3,418.2 824.2,419.0 825.1,418.1 826.0,419.1 826.9,418.1 827.8,419.2 828.7,418.1 829.6,418.9 830.5,418.1 831.4,418.9 832.3,418.1 833.2,419.0 834.1,418.0 835.0,418.9 835.9,417.9 836.8,419.0 837.7,418.1 838.6,419.0 839.5,418.1 840.4,418.9 841.3,418.1 842.2,418.9 843.1,417.9 844.0,418.9 844.9,417.8 845.7,419.0 846.6,418.0 847.5,418.9 848.4,418.0 849.3,419.0 850.2,418.1 851.1,419.2 852.0,418.0 852.9,419.1 853.8,418.1 854.7,419.0 855.6,418.1 856.5,419.1 857.4,418.1 858.3,419.0 859.2,418.0 860.1,419.2 861.0,417.9 861.9,418.9 862.8,418.1 863.7,419.0 864.6,418.2 865.5,419.0 866.4,418.1 867.3,419.2 868.2,418.1 869.1,419.0 870.0,418.1 870.9,419.1 871.8,417.9 872.7,418.9 873.6,418.1 874.5,419.0 875.4,417.8 876.3,418.9 877.2,418.1 878.1,418.9 879.0,418.0 879.9,418.9 880.8,417.9 881.7,418.9 882.6,418.0 883.5,419.0 884.4,418.0 885.3,419.0 886.2,418.0 887.1,418.9 887.1,290.8 888.0,292.3 888.9,290.7 889.8,292.3 890.7,290.8 891.6,292.4 892.5,291.0 893.4,292.2 894.3,290.7 895.2,292.3 896.1,290.9 897.0,292.2 897.9,290.8 898.8,292.2 899.7,290.8 900.6,292.5 901.5,290.9 902.4,292.4 903.3,290.5 904.2,292.3 905.1,290.9 906.0,292.2 906.9,290.9 907.8,292.7 908.7,290.9 909.6,292.4 910.5,290.6 911.4,292.4 912.3,290.9 913.2,292.4 914.1,290.9 915.0,292.4 915.9,290.9 916.8,292.6 917.7,290.7 918.6,292.4 919.5,291.0 920.4,292.4 921.3,290.7 922.2,292.4 923.1,291.0 924.0,292.4 924.9,290.8 925.8,292.7 926.7,290.8 927.6,292.3 928.5,290.6 929.4,292.4 930.3,290.9 931.2,292.3 932.1,291.0 933.0,292.3 933.9,290.7 934.8,292.3 935.7,290.9 936.6,292.6 937.5,290.7 938.4,292.6 939.3,290.8 940.2,292.6 941.1,291.0 942.0,292.3 942.9,290.9 943.8,292.3 944.7,290.8 945.6,292.4 946.5,290.8 947.4,292.4 948.3,290.6 949.2,292.3 950.1,290.6 951.0,292.3 951.9,290.9 952.8,292.3 953.7,290.8 954.6,292.3 955.5,290.6 956.4,292.4 957.3,290.9 958.2,292.6 959.1,290.9 960.0,292.4 960.9,290.9 961.8,292.2 962.7,290.8 963.6,292.2 964.5,290.5 965.4,292.3 966.3,290.8 967.2,292.3 968.1,290.8 969.0,292.3 969.9,290.8 970.8,292.4 971.7,290.9 972.6,292.3 973.5,290.8 974.4,292.3 975.3,290.7 976.2,292.3 977.1,290.9 978.0,292.3 978.9,290.9 979.8,292.2 980.7,290.9 981.6,292.3 982.5,290.8 983.4,292.4 984.3,290.9 985.2,292.4 986.1,290.9 987.0,292.3 987.9,290.9 988.8,292.3 989.7,290.8 990.6,292.5 991.5,290.9 992.4,292.5 993.3,290.8 994.2,292.4 995.1,291.0 996.0,292.4 996.9,290.8 997.8,292.6 998.7,290.7 999.6,292.4 1000.5,290.7 1001.4,292.3 1002.3,290.6 1003.2,292.3 1004.1,290.6 1005.0,292.5 1005.9,290.8 1006.8,292.3 1007.7,290.8 1008.6,292.2 1009.5,290.9 1010.4,292.3 1011.3,291.0 1012.2,292.2 1013.1,291.0 1014.0,292.2 1014.9,291.1 1015.8,292.2 1016.7,291.1 1017.6,292.2 1018.5,291.0 1019.4,292.4 1020.3,290.9 1021.2,292.4 1022.1,291.0 1023.0,292.3 1023.9,290.9 1024.8,292.6 1025.7,290.8 1026.6,292.4 1027.5,290.9 1028.4,292.5 1029.3,291.0 1030.2,292.5 1031.1,291.0 1032.0,292.5 1032.9,290.7 1033.8,292.4 1034.7,290.9 1035.6,292.3 1036.5,290.9 1037.4,292.3 1038.3,290.9 1039.2,292.5 1040.1,290.7 1041.0,292.4 1041.9,291.0 1042.8,292.4 1043.7,291.0 1044.6,292.4 1045.5,291.0 1046.4,292.4 1047.3,291.1 1048.2,292.3 1049.1,290.7 1050.0,292.4 1050.9,290.9 1051.8,292.4 1052.7,291.0 1053.6,292.6 1054.5,291.0 1055.5,292.3 1056.4,290.8 1057.3,292.4 1058.2,290.6 1059.1,292.4 1060.0,290.9 1060.9,292.3 1061.8,290.9 1062.7,292.4 1063.6,290.8 1064.5,292.4 1065.4,290.8 1066.3,292.2 1067.2,290.9 1068.1,292.1 1069.0,290.9 1069.9,292.5 1070.8,290.7 1071.7,292.3 1072.6,290.9 1073.5,292.7 1074.4,290.5 1075.3,292.4 1076.2,290.6 1077.1,292.3 1078.0,290.9 1078.9,292.4 1079.8,290.8 1080.7,292.2 1081.6,290.9 1082.5,292.2 1083.4,290.7 1084.3,292.2 1085.2,291.0 1086.1,292.3 1087.0,291.0 1087.9,292.4 1088.8,291.0 1089.7,292.7 1090.6,290.7 1091.5,292.6 1092.4,290.9 1093.3,292.3 1094.2,290.9 1095.1,292.2 1096.0,290.9 1096.9,292.1 1097.8,290.9 1098.7,292.1 1099.6,290.7 1100.5,292.3 1101.4,290.9 1102.3,292.3 1103.2,290.9 1104.1,292.4 1105.0,290.5 1105.9,292.3 1106.8,290.7 1107.7,292.4 1108.6,291.0 1109.5,292.3 1110.4,291.0 1111.3,292.3 1112.2,290.8 1113.1,292.2 1114.0,290.7 1114.9,292.1 1115.8,290.8 1116.7,292.2 1117.6,290.5 1118.5,292.2 1119.4,290.8 1120.3,292.2 1121.2,290.9 1122.1,292.2 1123.0,290.7 1123.9,292.6 1124.8,290.8 1125.7,292.4 1126.6,290.6 1127.5,292.5 1128.4,290.6 1129.3,292.4 1130.2,290.8 1131.1,292.5 1132.0,290.6 1132.9,292.3 1133.8,290.8 1134.7,292.5 1135.6,290.8 1136.5,292.3 1137.4,290.8 1138.3,292.1 1139.2,290.8 1140.1,292.4 1141.0,290.6 1141.9,292.4 1142.8,290.9 1143.7,292.2 1144.6,290.9 1145.5,292.3 1146.4,290.9 1147.3,292.3 1148.2,290.9 1149.1,292.3 1150.0,290.8 1150.9,292.5 1151.8,290.8 1152.7,292.5 1153.6,290.8 1154.5,292.5 1155.4,290.8 1156.3,292.3 1157.2,290.6 1158.1,292.4 1159.0,290.7 1159.9,292.4 1160.8,290.9 1161.7,292.4 1162.6,290.9 1163.5,292.4 1164.4,291.0 1165.3,292.4 1166.2,291.0 1167.1,292.2 1168.0,290.9 1168.9,292.2 1169.8,290.8 1170.7,292.2 1171.6,290.6 1172.5,292.2 1173.4,290.8 1174.3,292.3 1175.2,290.9 1176.1,292.3 1177.0,290.8 1177.9,292.3 1178.8,291.0 1179.7,292.3 1180.6,291.0 1181.5,292.5 1182.4,291.0 1183.3,292.5 1184.2,290.9 1185.1,292.4 1186.0,291.0 1186.9,292.4 1187.8,291.0 1188.7,292.6 1189.6,291.0 1190.5,292.4 1191.4,291.0 1192.3,292.6 1193.2,291.0 1194.1,292.4 1195.0,291.0 1195.9,292.4 1196.8,291.0 1197.7,292.4 1198.6,291.0 1199.5,292.6 1200.4,291.0 1201.3,292.3 1202.2,290.8 1203.1,292.3 1204.0,291.0 1204.9,292.5 1205.8,291.0 1206.7,292.3 1207.6,290.7 1208.5,292.6 1209.4,290.9 1210.3,292.5 1211.2,291.0 1212.1,292.4 1213.0,290.9 1213.9,292.6 1214.8,291.0 1215.7,292.4 1216.6,290.8 1217.5,292.3 1218.4,291.0 1219.3,292.5 1220.2,291.0 1221.1,292.2 1222.0,291.0 1222.9,292.3 1222.9,164.3 1223.8,166.1 1224.7,164.6 1225.6,166.2 1226.5,164.7 1227.4,166.3 1228.3,164.6 1229.2,166.3 1230.1,164.6 1231.0,166.5 1231.9,164.7 1232.8,166.2 1233.7,164.5 1234.6,166.4 1235.5,164.8 1236.4,166.4 1237.3,164.7 1238.2,166.6 1239.1,164.5 1240.0,166.2 1240.9,164.5 1241.8,166.6 1242.7,164.2 1243.6,166.4 1244.5,164.3 1245.4,166.2 1246.3,164.5 1247.2,166.4 1248.1,164.5 1249.0,166.2 1249.9,164.4 1250.8,166.3 1251.7,164.7 1252.6,166.2 1253.5,164.3 1254.4,166.3 1255.3,164.6 1256.2,166.5 1257.1,164.6 1258.0,166.4 1258.9,164.3 1259.8,166.3 1260.7,164.5 1261.6,166.6 1262.5,164.5 1263.4,166.2 1264.3,164.5 1265.2,166.3 1266.1,164.7 1267.0,166.4 1267.9,164.7 1268.8,166.4 1269.7,164.7 1270.6,166.3 1271.5,164.8 1272.4,166.4 1273.3,164.8 1274.2,166.4 1275.1,164.8 1276.0,166.5 1276.9,164.8 1277.8,166.8 1278.7,164.7 1279.6,166.8 1280.5,164.6 1281.4,166.6 1282.3,164.4 1283.2,166.4 1284.1,164.3 1285.0,166.3 1285.9,164.6 1286.8,166.2 1287.7,164.7 1288.6,166.4 1289.5,164.4 1290.4,166.4 1291.3,164.5 1292.2,166.3 1293.1,164.5 1294.0,166.1 1294.9,164.6 1295.8,166.4 1296.7,164.4 1297.6,166.3 1298.5,164.4 1299.4,166.2 1300.3,164.1 1301.2,166.1 1302.1,164.6 1303.0,166.2 1303.9,164.6 1304.8,166.5 1305.7,164.5 1306.6,166.3 1307.4,164.6 1308.3,166.2 1309.2,164.4 1310.1,166.3 1311.0,164.6 1311.9,166.3 1312.8,164.6 1313.7,166.2 1314.6,164.3 1315.5,166.4 1316.4,164.3 1317.3,166.6 1318.2,164.3 1319.1,166.3 1320.0,164.6 1320.9,166.2 1321.8,164.5 1322.7,166.2 1323.6,164.4 1324.5,166.1 1325.4,164.5 1326.3,166.1 1327.2,164.7 1328.1,166.2 1329.0,164.5 1329.9,166.3 1330.8,164.5 1331.7,166.7 1332.6,164.3 1333.5,166.3 1334.4,163.9 1335.3,166.0 1336.2,164.2 1337.1,166.3 1338.0,164.2 1338.9,165.9 1339.8,164.4 1340.7,165.9 1341.6,164.4 1342.5,166.0 1343.4,164.3 1344.3,166.2 1345.2,164.3 1346.1,165.9 1347.0,164.4 1347.9,166.2 1348.8,164.4 1349.7,166.4 1350.6,164.4 1351.5,166.2 1352.4,164.4 1353.3,166.1 1354.2,164.5 1355.1,166.1 1356.0,164.4 1356.9,166.0 1357.8,164.4 1358.7,166.1 1359.6,164.5 1360.5,166.2 1361.4,164.1 1362.3,166.3 1363.2,164.4 1364.1,166.6 1365.0,164.4 1365.9,166.5 1366.8,164.4 1367.7,166.1 1368.6,164.2 1369.5,166.1 1370.4,164.6 1371.3,166.1 1372.2,164.7 1373.1,166.2 1374.0,164.8 1374.9,166.3 1375.8,164.7 1376.7,166.2 1377.6,164.3 1378.5,166.3 1379.4,164.5 1380.3,166.3 1381.2,164.5 1382.1,166.4 1383.0,164.6 1383.9,166.4 1384.8,164.5 1385.7,166.7 1386.6,164.7 1387.5,166.4 1388.4,164.6 1389.3,166.3 1390.2,164.8 1391.1,166.5 1392.0,164.5 1392.9,166.2 1393.8,164.8 1394.7,166.4 1395.6,164.6 1396.5,166.2 1397.4,164.8 1398.3,166.2 1399.2,164.9 1400.1,166.3 1401.0,164.6 1401.9,166.4 1402.8,164.9 1403.7,166.4 1404.6,164.7 1405.5,166.4 1406.4,164.4 1407.3,166.2 1408.2,164.6 1409.1,166.1 1410.0,164.6 1410.9,166.3 1411.8,164.6 1412.7,166.2 1413.6,164.4 1414.5,166.3 1415.4,164.6 1416.3,166.4 1417.2,164.6 1418.1,166.3 1419.0,164.7 1419.9,166.6 1420.8,164.6 1421.7,166.3 1422.6,164.7 1423.5,166.2 1424.4,164.7 1425.3,166.7 1426.2,164.7 1427.1,166.7 1428.0,164.4 1428.9,166.4 1429.8,164.6 1430.7,166.6 1431.6,164.0 1432.5,166.5 1433.4,164.5 1434.3,166.2 1435.2,164.3 1436.1,166.4 1437.0,164.7 1437.9,166.3 1438.8,164.7 1439.7,166.3 1440.6,164.4 1441.5,166.3 1442.4,164.6 1443.3,166.3 1444.2,164.6 1445.1,166.3 1446.0,164.6 1446.9,166.4 1447.8,164.5 1448.7,166.4 1449.6,164.5 1450.5,166.5 1451.4,164.4 1452.3,166.5 1453.2,164.6 1454.1,166.4 1455.0,164.7 1455.9,166.5 1456.8,164.7 1457.7,166.3 1458.6,164.8 1459.5,166.3 1460.4,164.8 1461.3,166.6 1462.2,164.7 1463.1,166.3 1464.0,164.6 1464.9,166.5 1465.8,164.7 1466.7,166.3 1467.6,164.7 1468.5,166.4 1469.4,164.6 1470.3,166.3 1471.2,164.7 1472.1,166.4 1473.0,164.5 1473.9,166.3 1474.7,164.5 1475.6,166.4 1476.5,164.8 1477.4,166.2 1478.3,164.6 1479.2,166.4 1480.1,164.8 1481.0,166.3 1481.9,164.6 1482.8,166.6 1483.7,164.8 1484.6,166.5 1485.5,164.8 1486.4,166.2 1487.3,164.7 1488.2,166.3 1489.1,164.6 1490.0,166.1 1490.9,164.5 1491.8,166.1 1492.7,164.1 1493.6,166.0 1494.5,164.5 1495.4,166.1 1496.3,164.5 1497.2,166.2 1498.1,164.6 1499.0,166.3 1499.9,164.5 1500.8,166.2 1501.7,164.7 1502.6,166.2 1503.5,164.7 1504.4,166.4 1505.3,164.6 1506.2,166.3 1507.1,164.3 1508.0,166.2 1508.9,164.4 1509.8,166.2 1510.7,164.5 1511.6,166.1 1512.5,164.2 1513.4,166.1 1514.3,164.4 1515.2,166.2 1516.1,164.5 1517.0,166.2 1517.9,164.1 1518.8,166.4 1519.7,164.5 1520.6,166.2 1521.5,164.3 1522.4,166.0 1523.3,164.6 1524.2,166.3 1525.1,164.5 1526.0,166.1 1526.9,164.5 1527.8,166.1 1528.7,164.4 1529.6,166.2 1530.5,164.6 1531.4,166.3 1532.3,164.7 1533.2,166.2 1534.1,164.8 1535.0,166.4 1535.9,164.8 1536.8,166.3 1537.7,164.7 1538.6,166.4 1539.5,164.7 1540.4,166.3 1541.3,164.5 1542.2,166.1 1543.1,164.5 1544.0,166.3 1544.9,164.5 1545.8,166.6 1546.7,164.5 1547.6,166.1 1548.5,164.7 1549.4,166.1 1550.3,164.8 1551.2,166.6 1552.1,164.8 1553.0,166.4 1553.9,164.7 1554.8,166.6 1555.7,164.6 1556.6,166.8 1557.5,164.2 1558.4,166.2 1558.4,290.7 1559.3,292.4 1560.2,290.9 1561.1,292.4 1562.0,291.1 1562.9,292.7 1563.8,290.9 1564.7,292.5 1565.6,290.9 1566.5,292.7 1567.4,291.1 1568.3,292.4 1569.2,291.0 1570.1,292.6 1571.0,290.7 1571.9,292.4 1572.8,290.9 1573.7,292.3 1574.6,291.1 1575.5,292.4 1576.4,291.1 1577.3,292.4 1578.2,291.1 1579.1,292.3 1580.0,290.9 1580.9,292.3 1581.8,291.0 1582.7,292.2 1583.6,291.0 1584.5,292.3 1585.4,290.9 1586.3,292.4 1587.2,290.9 1588.1,292.4 1589.0,291.0 1589.9,292.3 1590.8,291.0 1591.7,292.2 1592.6,291.0 1593.5,292.5 1594.4,290.8 1595.3,292.5 1596.2,291.0 1597.1,292.3 1598.0,290.9 1598.9,292.2 1599.8,290.5 1600.6,292.6 1601.5,291.0 1602.4,292.7 1603.3,291.0 1604.2,292.3 1605.1,291.0 1606.0,292.3 1606.9,290.7 1607.8,292.4 1608.7,290.7 1609.6,292.3 1610.5,290.6 1611.4,292.3 1612.3,290.9 1613.2,292.3 1614.1,290.9 1615.0,292.5 1615.9,290.8 1616.8,292.3 1617.7,290.8 1618.6,292.3 1619.5,290.9 1620.4,292.3 1621.3,290.8 1622.2,292.3 1623.1,290.9 1624.0,292.4 1624.9,290.8 1625.8,292.2 1626.7,290.6 1627.6,292.4 1628.5,290.8 1629.4,292.4 1630.3,290.8 1631.2,292.3 1632.1,290.9 1633.0,292.4 1633.9,290.7 1634.8,292.7 1635.7,290.7 1636.6,292.3 1637.5,290.7 1638.4,292.2 1639.3,290.9 1640.2,292.2 1641.1,290.9 1642.0,292.3 1642.9,290.8 1643.8,292.2 1644.7,290.9 1645.6,292.3 1646.5,290.8 1647.4,292.4 1648.3,291.0 1649.2,292.4 1650.1,290.9 1651.0,292.4 1651.9,290.9 1652.8,292.4 1653.7,290.6 1654.6,292.2 1655.5,290.9 1656.4,292.2 1657.3,290.8 1658.2,292.4 1659.1,291.0 1660.0,292.4 1660.9,291.0 1661.8,292.4 1662.7,291.0 1663.6,292.4 1664.5,291.0 1665.4,292.3 1666.3,290.7 1667.2,292.3 1668.1,290.9 1669.0,292.2 1669.9,290.7 1670.8,292.3 1671.7,290.7 1672.6,292.1 1673.5,290.8 1674.4,292.4 1675.3,290.9 1676.2,292.3 1677.1,290.6 1678.0,292.3 1678.9,290.7 1679.8,292.4 1680.7,290.8 1681.6,292.2 1682.5,290.6 1683.4,292.2 1684.2,290.9 1685.1,292.2 1686.0,290.6 1686.9,292.2 1687.8,290.9 1688.7,292.2 1689.6,291.0 1690.5,292.3 1691.4,290.8 1692.3,292.3 1693.2,290.9 1694.1,292.2 1695.0,290.9 1695.9,292.2 1696.8,290.8 1697.7,292.2 1698.6,290.7 1699.5,292.2 1700.4,290.8 1701.3,292.4 1702.2,290.8 1703.1,292.3 1704.0,290.9 1704.9,292.3 1705.8,290.9 1706.7,292.1 1707.6,290.9 1708.5,292.5 1709.4,290.9 1710.3,292.4 1711.2,291.0 1712.1,292.5 1713.0,291.0 1713.9,292.4 1714.8,291.1 1715.7,292.3 1716.6,290.9 1717.5,292.5 1718.4,290.6 1719.3,292.3 1720.2,290.9 1721.1,292.3 1722.0,291.0 1722.9,292.2 1723.8,290.8 1724.7,292.3 1725.6,290.7 1726.5,292.5 1727.4,290.9 1728.3,292.5 1729.2,290.8 1730.1,292.4 1731.0,290.9 1731.9,292.3 1732.8,290.8 1733.7,292.2 1734.6,290.6 1735.5,292.2 1736.4,290.9 1737.3,292.2 1738.2,291.0 1739.1,292.3 1740.0,291.0 1740.9,292.2 1741.8,291.0 1742.7,292.2 1743.6,291.0 1744.5,292.3 1745.4,290.8 1746.3,292.3 1747.2,291.0 1748.1,292.6 1749.0,290.9 1749.9,292.3 1750.8,290.9 1751.7,292.2 1752.6,290.9 1753.5,292.2 1754.4,290.8 1755.3,292.2 1756.2,290.6 1757.1,292.3 1758.0,290.8 1758.9,292.4 1759.8,290.7 1760.7,292.2 1761.6,290.9 1762.5,292.4 1763.4,291.0 1764.3,292.4 1765.2,291.1 1766.1,292.4 1767.0,291.0 1767.9,292.5 1768.7,290.9 1769.6,292.7 1770.5,290.9 1771.4,292.6 1772.3,290.9 1773.2,292.3 1774.1,290.9 1775.0,292.4 1775.9,290.8 1776.8,292.4 1777.7,290.9 1778.6,292.6 1779.5,291.0 1780.4,292.3 1781.3,291.0 1782.2,292.3 1783.1,290.9 1784.0,292.2 1784.9,290.9 1785.8,292.1 1786.7,290.6 1787.6,292.1 1788.5,290.7 1789.4,292.2 1790.3,291.0 1791.2,292.4 1792.1,291.0 1793.0,292.3 1793.9,291.0 1794.8,292.2 1795.7,291.0 1796.6,292.2 1797.5,290.8 1798.4,292.5 1799.3,290.9 1800.2,292.3 1801.1,290.9 1802.0,292.2 1802.9,290.7 1803.8,292.2 1804.7,291.0 1805.6,292.7 1806.5,291.0 1807.4,292.5 1808.3,291.1 1809.2,292.5 1810.1,291.1 1811.0,292.5 1811.9,291.1 1812.8,292.6 1813.7,291.0 1814.6,292.5 1815.5,290.7 1816.4,292.7 1817.3,290.9 1818.2,292.7 1819.1,291.2 1820.0,292.4 1820.9,290.9 1821.8,292.4 1822.7,291.0 1823.6,292.5 1824.5,291.0 1825.4,292.3 1826.3,291.0 1827.2,292.2 1828.1,290.9 1829.0,292.2 1829.9,290.9 1830.8,292.3 1831.7,291.0 1832.6,292.3 1833.5,291.1 1834.4,292.3 1835.3,291.0 1836.2,292.2 1837.1,290.9 1838.0,292.6 1838.9,290.8 1839.8,292.4 1840.7,291.0 1841.6,292.4 1842.5,290.9 1843.4,292.2 1844.3,290.5 1845.2,292.2 1846.1,290.9 1847.0,292.4 1847.9,290.9 1848.8,292.3 1849.7,290.8 1850.6,292.4 1851.5,291.0 1852.3,292.7 1853.2,290.9 1854.1,292.7 1855.0,290.7 1855.9,292.3 1856.8,290.8 1857.7,292.3 1858.6,290.7 1859.5,292.5 1860.4,290.8 1861.3,292.2 1862.2,290.9 1863.1,292.2 1864.0,290.8 1864.9,292.2 1865.8,291.0 1866.7,292.1 1867.6,290.8 1868.5,292.1 1869.4,290.9 1870.3,292.1 1871.2,290.8 1872.1,292.2 1873.0,290.8 1873.9,292.3 1874.8,290.7 1875.7,292.4 1876.6,290.9 1877.5,292.3 1878.4,291.0 1879.3,292.3 1880.2,291.0 1881.1,292.4 1882.0,290.9 1882.9,292.5 1883.8,290.9 1884.7,292.3 1885.6,291.0 1886.5,292.3 1887.4,291.0 1888.3,292.6 1889.2,290.7 1890.1,292.3 1891.0,291.0 1891.9,292.3 1892.8,290.8 1893.7,292.3" fill="none" stroke="#000000" stroke-width="4.6" stroke-linejoin="round" stroke-linecap="round"/>
<polygon points="361.85,276.65 373.45,292.05 361.85,307.45 350.25,292.05" fill="none" stroke="#000" stroke-width="4.7" stroke-linejoin="miter"/>
<polygon points="843.50,402.80 855.10,418.20 843.50,433.60 831.90,418.20" fill="none" stroke="#000" stroke-width="4.7" stroke-linejoin="miter"/>
<polygon points="1325.00,151.50 1336.60,166.90 1325.00,182.30 1313.40,166.90" fill="none" stroke="#000" stroke-width="4.7" stroke-linejoin="miter"/>
<polygon points="1806.50,276.40 1818.10,291.80 1806.50,307.20 1794.90,291.80" fill="none" stroke="#000" stroke-width="4.7" stroke-linejoin="miter"/>
<polyline points="216.0,120.7 216.9,125.4 217.8,120.1 218.7,125.5 219.6,120.6 220.5,126.2 221.4,120.5 222.3,125.3 223.2,120.4 224.1,125.1 225.0,119.6 225.9,125.0 226.8,119.6 227.7,125.6 228.6,119.8 229.5,125.1 230.4,120.1 231.3,125.2 232.2,119.2 233.1,126.5 234.0,120.1 234.9,125.5 235.8,120.0 236.7,125.4 237.6,119.9 238.5,126.2 239.4,119.7 240.3,126.0 241.2,119.9 242.1,125.0 243.0,119.7 243.9,125.4 244.8,119.4 245.7,125.3 246.6,120.4 247.5,125.5 248.4,119.5 249.3,126.1 250.2,120.0 251.1,124.9 252.0,120.3 252.9,125.0 253.8,120.7 254.7,125.1 255.6,119.8 256.5,125.1 257.4,120.3 258.3,124.9 259.2,119.1 260.1,124.9 261.0,120.1 261.9,124.7 262.8,120.1 263.7,124.8 264.6,119.2 265.5,124.8 266.4,120.1 267.3,124.6 268.2,119.9 269.1,124.7 270.0,120.1 270.9,124.7 271.8,120.4 272.7,125.1 273.6,120.4 274.5,125.2 275.4,120.3 276.3,125.7 277.2,120.3 278.1,124.9 279.0,120.4 279.9,124.6 280.8,120.0 281.7,124.8 282.6,119.9 283.5,125.2 284.4,120.1 285.3,125.2 286.2,119.7 287.1,126.0 288.0,120.6 288.9,125.1 289.8,120.5 290.7,125.3 291.6,120.5 292.5,125.5 293.4,120.5 294.3,126.5 295.2,120.3 296.1,125.5 297.0,119.7 297.9,125.7 298.8,119.0 299.8,124.6 300.7,118.6 301.6,126.1 302.5,119.6 303.4,125.2 304.3,118.6 305.2,124.6 306.1,119.8 307.0,124.5 307.9,120.0 308.8,124.7 309.7,120.2 310.6,125.0 311.5,120.5 312.4,125.0 313.3,119.7 314.2,125.2 315.1,120.5 316.0,125.4 316.9,120.4 317.8,125.4 318.7,120.0 319.6,125.9 320.5,120.3 321.4,125.4 322.3,119.6 323.2,124.8 324.1,119.5 325.0,124.9 325.9,120.5 326.8,125.6 327.7,120.3 328.6,125.2 329.5,120.5 330.4,125.7 331.3,120.4 332.2,125.9 333.1,120.3 334.0,125.4 334.9,120.2 335.8,125.4 336.7,120.2 337.6,125.2 338.5,120.0 339.4,125.2 340.3,120.8 341.2,126.9 342.1,120.3 343.0,127.1 343.9,120.4 344.8,125.8 345.7,121.2 346.6,126.4 347.5,121.3 348.4,126.0 349.3,121.2 350.2,125.9 351.1,121.1 352.0,126.1 352.9,120.1 353.8,125.9 354.7,120.1 355.6,125.8 356.5,120.2 357.4,125.7 358.3,121.1 359.2,125.7 360.1,121.1 361.0,126.1 361.9,121.0 362.8,125.8 363.7,121.3 364.6,125.9 365.5,121.8 366.4,126.6 367.3,121.3 368.2,126.4 369.1,120.5 370.0,127.3 370.9,120.9 371.8,126.1 372.7,120.0 373.6,125.8 374.5,120.8 375.4,125.6 376.3,120.8 377.2,125.2 378.1,121.0 379.0,125.2 379.9,121.1 380.8,125.5 381.7,120.3 382.6,125.6 383.5,121.1 384.4,125.4 385.3,120.7 386.2,126.1 387.1,119.3 388.0,125.6 388.9,120.6 389.8,126.8 390.7,120.9 391.6,125.6 392.5,120.1 393.4,125.5 394.3,121.1 395.2,126.7 396.1,120.8 397.0,125.5 397.9,120.0 398.8,125.8 399.7,120.3 400.6,125.8 401.5,120.3 402.4,125.5 403.3,120.5 404.2,126.4 405.1,120.4 406.0,125.4 406.9,119.9 407.8,125.5 408.7,120.6 409.6,126.6 410.5,120.5 411.4,126.2 412.3,119.6 413.2,126.4 414.1,120.6 415.0,125.5 415.9,120.5 416.8,125.2 417.7,119.8 418.6,125.2 419.5,120.4 420.4,126.3 421.3,120.3 422.2,125.5 423.1,119.3 424.0,125.8 424.9,120.3 425.8,126.9 426.7,120.0 427.6,125.5 428.5,120.5 429.4,125.5 430.3,120.1 431.2,125.5 432.1,120.3 433.0,126.2 433.9,119.9 434.8,125.5 435.7,120.4 436.6,124.7 437.5,120.5 438.4,125.7 439.3,120.3 440.2,124.7 441.1,120.0 442.0,125.1 442.9,119.1 443.8,125.9 444.7,119.5 445.6,125.5 446.5,119.6 447.4,125.4 448.3,118.7 449.2,124.8 450.1,120.0 451.0,124.9 451.9,120.0 452.8,124.4 453.7,119.6 454.6,124.4 455.5,119.4 456.4,124.4 457.3,119.4 458.2,125.1 459.1,119.3 460.0,124.5 460.9,119.0 461.8,125.6 462.7,120.3 463.6,126.0 464.5,119.8 465.4,125.1 466.3,119.5 467.2,126.1 468.2,119.7 469.1,126.2 470.0,118.7 470.9,125.0 471.8,119.7 472.7,124.9 473.6,118.4 474.5,124.5 475.4,119.8 476.3,124.7 477.2,120.3 478.1,125.1 479.0,120.4 479.9,126.0 480.8,119.8 481.7,126.2 482.6,119.4 483.5,125.3 484.4,118.8 485.3,125.4 486.2,119.2 487.1,125.6 488.0,120.0 488.9,125.2 489.8,120.0 490.7,125.1 491.6,120.3 492.5,125.0 493.4,119.7 494.3,125.5 495.2,120.7 496.1,125.3 497.0,120.5 497.9,125.6 498.8,119.6 499.7,125.9 500.6,120.4 501.5,126.9 502.4,120.3 503.3,126.1 504.2,120.7 505.1,126.1 506.0,120.5 506.9,126.2 507.8,120.8 508.7,127.1 509.6,121.1 510.5,125.7 511.4,121.1 512.3,126.6 513.2,120.9 514.1,125.4 515.0,121.0 515.9,126.0 516.8,120.8 517.7,126.2 518.6,120.9 519.5,126.9 520.4,121.0 521.3,126.3 522.2,120.7 523.1,126.5 524.0,120.8 524.9,125.8 525.8,121.2 526.7,125.6 527.6,121.7 528.5,126.4 529.4,121.0 530.3,126.6 531.2,120.6 532.1,126.0 533.0,120.9 533.9,125.4 534.8,120.6 535.7,126.0 536.6,120.7 537.5,125.3 538.4,120.0 539.3,125.1 540.2,121.0 541.1,125.3 542.0,121.1 542.9,125.5 543.8,120.8 544.7,125.4 545.6,120.7 546.5,125.9 547.4,119.8 548.3,125.8 549.2,120.4 550.1,125.5 551.0,120.1 551.5,140.3 551.5,140.3 551.9,109.8 552.7,108.4 553.6,110.3 554.4,108.5 555.2,110.4 556.1,108.2 556.9,110.4 556.9,115.6 558.2,116.1 558.2,108.3 559.2,110.1 560.1,107.9 561.1,110.0 562.1,107.9 563.0,110.1 564.0,108.2 564.0,126.9 565.2,125.7 565.2,125.9 566.1,119.8 567.0,126.8 567.9,118.6 568.8,126.0 569.7,120.0 570.6,125.8 571.5,119.7 572.4,126.2 573.3,121.0 574.2,127.7 575.1,121.1 576.0,127.9 576.9,121.2 577.8,126.1 578.7,120.8 579.6,126.8 580.5,120.5 581.4,126.9 582.3,121.2 583.2,126.5 584.1,120.5 585.0,126.2 585.9,121.4 586.8,126.1 587.7,120.3 588.6,125.9 589.5,120.4 590.4,125.7 591.3,121.1 592.2,126.7 593.1,120.1 594.0,126.0 594.9,120.9 595.8,126.0 596.7,121.1 597.6,126.2 598.5,120.6 599.4,126.2 600.3,120.9 601.2,126.3 602.1,121.0 603.0,126.2 603.9,119.8 604.8,126.2 605.7,121.1 606.6,126.9 607.5,119.7 608.4,127.7 609.3,120.7 610.2,126.7 611.1,120.7 612.0,125.7 612.9,119.7 613.8,126.0 614.7,120.5 615.6,126.4 616.5,120.4 617.4,126.6 618.3,120.6 619.2,126.6 620.1,119.7 621.0,127.9 621.9,120.5 622.8,126.2 623.7,120.0 624.6,126.1 625.5,120.1 626.4,126.1 627.3,119.4 628.2,125.8 629.1,120.4 630.0,126.1 630.9,120.0 631.8,126.5 632.7,121.1 633.6,127.7 634.5,120.9 635.4,127.1 636.3,120.7 637.2,126.9 638.1,120.7 639.0,125.9 639.9,120.4 640.8,126.4 641.7,120.4 642.6,125.7 643.5,120.0 644.4,126.6 645.3,119.9 646.2,125.6 647.1,119.3 648.0,126.0 648.9,120.1 649.8,126.3 650.7,120.4 651.6,126.6 652.5,120.5 653.4,126.7 654.3,120.8 655.2,127.9 656.1,120.4 657.0,126.3 657.9,120.6 658.8,126.2 659.7,120.2 660.6,127.4 661.5,118.9 662.4,126.2 663.3,119.2 664.2,125.9 665.1,119.8 666.0,126.4 666.9,119.7 667.8,127.2 668.7,120.8 669.6,127.3 670.5,121.0 671.4,125.6 672.3,120.8 673.2,125.9 674.1,121.1 675.0,126.1 675.9,119.7 676.8,126.2 677.7,120.6 678.6,126.2 679.5,120.8 680.4,126.7 681.3,120.9 682.2,126.2 683.1,119.6 684.0,126.2 684.9,120.1 685.8,126.7 686.7,120.2 687.6,126.2 688.5,119.0 689.4,126.2 690.3,120.4 691.2,127.3 692.1,120.2 693.0,126.3 693.9,120.6 694.8,125.5 695.7,120.6 696.6,125.7 697.5,120.4 698.4,125.9 699.3,120.4 700.2,126.0 701.1,120.3 702.0,125.7 702.9,120.4 703.8,126.1 704.7,120.2 705.6,126.2 706.5,119.9 707.4,125.6 708.3,120.2 709.2,125.8 710.1,120.6 711.0,126.0 711.9,120.1 712.8,125.4 713.7,119.9 714.6,125.9 715.5,119.2 716.4,125.5 717.3,120.6 718.2,126.5 719.1,120.6 720.0,126.1 720.9,119.6 721.8,125.4 722.7,119.7 723.6,126.6 724.5,120.6 725.4,126.1 726.4,120.9 727.3,126.3 728.2,120.3 729.1,126.7 730.0,121.4 730.9,127.0 731.8,120.7 732.7,126.8 733.6,121.5 734.5,127.6 735.4,121.6 736.3,127.2 737.2,120.8 738.1,126.9 739.0,120.3 739.9,126.7 740.8,120.8 741.7,127.4 742.6,120.3 743.5,126.5 744.4,120.4 745.3,127.3 746.2,120.9 747.1,126.5 748.0,121.2 748.9,127.1 749.8,121.2 750.7,127.3 751.6,121.2 752.5,126.7 753.4,121.3 754.3,127.1 755.2,121.1 756.1,128.0 757.0,120.9 757.9,126.9 758.8,119.9 759.7,126.7 760.6,120.7 761.5,126.5 762.4,120.8 763.3,126.3 764.2,120.9 765.1,127.6 766.0,119.5 766.9,128.2 767.8,120.7 768.7,127.0 769.6,119.9 770.5,127.0 771.4,119.5 772.3,126.4 773.2,120.7 774.1,126.9 775.0,120.4 775.9,127.2 776.8,121.0 777.7,126.8 778.6,120.5 779.5,127.1 780.4,120.8 781.3,126.3 782.2,121.2 783.1,126.9 784.0,121.4 784.9,127.1 785.8,121.4 786.7,126.7 787.6,121.0 788.5,126.5 789.4,120.1 790.3,126.1 791.2,120.5 792.1,127.1 793.0,119.6 793.9,126.6 794.8,120.8 795.7,126.1 796.6,120.9 797.5,127.0 798.4,121.4 799.3,126.3 800.2,121.6 801.1,126.4 802.0,121.1 802.9,126.1 803.8,120.5 804.7,126.0 805.6,120.3 806.5,126.5 807.4,120.2 808.3,126.2 809.2,120.2 810.1,126.3 811.0,120.8 811.9,127.4 812.8,120.6 813.7,126.1 814.6,120.4 815.5,126.2 816.4,119.1 817.3,126.2 818.2,119.1 819.1,125.5 820.0,120.2 820.9,126.1 821.8,120.1 822.7,125.3 823.6,120.5 824.5,125.7 825.4,120.8 826.3,126.0 827.2,121.1 828.1,126.1 829.0,121.4 829.9,125.9 830.8,121.0 831.7,125.9 832.6,120.7 833.5,125.8 834.4,120.8 835.3,125.7 836.2,120.6 837.1,126.2 838.0,120.6 838.9,126.4 839.8,120.1 840.7,126.4 841.6,121.1 842.5,127.2 843.4,121.1 844.3,126.4 845.2,121.1 846.1,127.6 847.0,121.0 847.9,127.0 848.8,120.7 849.7,126.3 850.6,119.5 851.5,126.7 852.4,120.3 853.3,126.7 854.2,120.3 855.1,127.7 856.0,120.5 856.9,126.3 857.8,119.3 858.7,127.8 859.6,120.6 860.5,126.4 861.4,120.9 862.3,126.9 863.2,119.7 864.1,127.3 865.0,120.8 865.9,126.3 866.8,120.0 867.7,126.1 868.6,120.8 869.5,126.9 870.4,120.0 871.3,126.7 872.2,121.0 873.1,126.7 874.0,121.1 874.9,127.4 875.8,121.5 876.7,126.8 877.6,121.2 878.5,127.5 879.4,121.0 880.3,127.4 881.2,121.0 882.1,127.2 883.0,119.8 883.9,126.9 884.8,121.1 885.7,127.2 886.6,121.3 887.0,106.6 887.0,106.6 887.4,140.1 887.4,140.1 887.8,139.3 888.7,127.5 889.6,139.6 890.5,129.0 891.4,141.6 892.2,128.2 893.1,139.5 894.0,126.7 894.9,138.0 895.8,128.1 896.6,139.8 896.6,139.8 897.4,117.4 897.4,117.4 898.2,140.0 898.2,140.0 899.0,118.4 899.0,118.4 899.7,139.3 899.7,139.3 900.5,126.3 901.4,121.0 902.3,126.6 903.2,120.3 904.1,126.6 905.0,120.0 905.9,126.6 906.8,121.0 907.7,127.4 908.6,121.3 909.5,127.1 910.4,120.3 911.3,126.5 912.2,121.1 913.1,126.4 914.0,121.2 914.9,126.1 915.8,121.4 916.7,126.0 917.6,121.4 918.5,126.6 919.4,121.4 920.3,126.5 921.2,120.9 922.1,126.4 923.0,121.2 923.9,127.5 924.8,120.9 925.7,126.8 926.6,120.8 927.5,128.2 928.4,120.6 929.3,126.5 930.2,121.0 931.1,126.2 932.0,121.2 932.9,126.5 933.8,120.0 934.7,126.6 935.6,119.8 936.5,126.6 937.4,120.7 938.3,126.7 939.2,120.7 940.1,126.4 941.1,120.3 942.0,126.9 942.9,121.3 943.8,126.7 944.7,121.4 945.6,126.5 946.5,120.9 947.4,126.1 948.3,121.1 949.2,125.9 950.1,121.1 951.0,125.9 951.9,121.2 952.8,126.3 953.7,120.9 954.6,127.3 955.5,121.3 956.4,126.5 957.3,121.1 958.2,126.9 959.1,121.1 960.0,126.7 960.9,121.0 961.8,126.7 962.7,119.8 963.6,126.4 964.5,120.6 965.4,127.5 966.3,119.9 967.2,126.6 968.1,120.9 969.0,126.3 969.9,119.5 970.8,126.1 971.7,120.5 972.6,126.3 973.5,120.2 974.4,126.2 975.3,121.2 976.2,125.9 977.1,120.1 978.0,125.7 978.9,120.5 979.8,126.6 980.7,121.0 981.6,126.6 982.5,121.6 983.4,126.6 984.3,120.5 985.2,127.5 986.1,120.7 987.0,126.5 987.9,121.0 988.8,126.3 989.7,120.8 990.6,127.1 991.5,120.8 992.4,127.2 993.3,120.6 994.2,126.1 995.1,119.7 996.0,127.4 996.9,120.7 997.8,126.0 998.7,120.4 999.6,125.8 1000.5,120.3 1001.4,127.0 1002.3,119.4 1003.2,126.5 1004.1,120.4 1005.0,127.2 1005.9,120.4 1006.8,126.2 1007.7,119.9 1008.6,126.7 1009.5,119.3 1010.4,125.7 1011.3,119.3 1012.2,126.0 1013.1,119.8 1014.0,125.9 1014.9,119.9 1015.8,126.7 1016.7,120.1 1017.6,125.9 1018.5,120.1 1019.4,125.7 1020.3,120.2 1021.3,125.1 1022.2,119.2 1023.1,125.5 1024.0,119.3 1024.9,125.4 1025.8,120.3 1026.7,125.4 1027.6,120.1 1028.5,125.4 1029.4,120.1 1030.3,125.8 1031.2,119.9 1032.1,126.1 1033.0,120.8 1033.9,126.9 1034.8,120.1 1035.7,126.8 1036.6,120.6 1037.5,127.1 1038.4,120.7 1039.3,127.5 1040.2,120.8 1041.1,126.6 1042.0,121.2 1042.9,127.5 1043.8,121.1 1044.7,127.6 1045.6,120.9 1046.5,126.8 1047.4,121.0 1048.3,127.0 1049.2,121.4 1050.1,126.9 1051.0,121.2 1051.9,126.6 1052.8,121.4 1053.7,126.5 1054.6,121.6 1055.5,126.4 1056.4,121.6 1057.3,127.0 1058.2,120.7 1059.1,126.1 1060.0,121.5 1060.9,126.2 1061.8,121.7 1062.7,126.6 1063.6,121.6 1064.5,126.6 1065.4,120.5 1066.3,126.9 1067.2,121.4 1068.1,125.8 1069.0,121.1 1069.9,126.0 1070.8,120.8 1071.7,126.3 1072.6,120.8 1073.5,126.3 1074.4,121.0 1075.3,126.4 1076.2,121.2 1077.1,126.2 1078.0,120.5 1078.9,126.2 1079.8,121.0 1080.7,125.9 1081.6,120.9 1082.5,126.1 1083.4,120.5 1084.3,126.6 1085.2,120.9 1086.1,126.6 1087.0,121.0 1087.9,127.3 1088.8,121.3 1089.7,127.5 1090.6,121.3 1091.5,127.0 1092.4,121.6 1093.3,127.9 1094.2,121.5 1095.1,126.5 1096.0,121.8 1096.9,126.5 1097.8,121.8 1098.7,126.8 1099.6,121.7 1100.5,126.7 1101.4,121.9 1102.4,126.9 1103.3,121.7 1104.2,127.4 1105.1,121.2 1106.0,125.9 1106.9,121.0 1107.8,125.9 1108.7,120.8 1109.6,126.6 1110.5,120.9 1111.4,125.8 1112.3,120.0 1113.2,126.2 1114.1,120.5 1115.0,126.3 1115.9,120.1 1116.8,125.9 1117.7,119.2 1118.6,127.1 1119.5,119.7 1120.4,127.2 1121.3,119.6 1122.2,126.8 1123.1,119.4 1124.0,127.4 1124.9,121.0 1125.8,126.4 1126.7,121.1 1127.6,126.7 1128.5,120.1 1129.4,126.5 1130.3,120.7 1131.2,126.5 1132.1,121.1 1133.0,126.4 1133.9,121.4 1134.8,127.3 1135.7,120.5 1136.6,126.1 1137.5,120.4 1138.4,126.3 1139.3,120.9 1140.2,126.2 1141.1,120.1 1142.0,126.5 1142.9,120.4 1143.8,126.2 1144.7,119.1 1145.6,126.9 1146.5,120.8 1147.4,126.6 1148.3,121.1 1149.2,127.2 1150.1,120.1 1151.0,127.3 1151.9,120.0 1152.8,126.7 1153.7,120.4 1154.6,126.4 1155.5,119.8 1156.4,125.5 1157.3,120.3 1158.2,126.1 1159.1,120.5 1160.0,125.5 1160.9,119.8 1161.8,125.5 1162.7,120.9 1163.6,126.3 1164.5,120.8 1165.4,125.6 1166.3,119.3 1167.2,126.4 1168.1,120.3 1169.0,127.3 1169.9,119.3 1170.8,125.6 1171.7,120.0 1172.6,125.4 1173.5,119.9 1174.4,125.3 1175.3,120.0 1176.2,125.9 1177.1,120.3 1178.0,125.8 1178.9,121.2 1179.8,126.9 1180.7,121.5 1181.6,127.4 1182.6,121.0 1183.5,127.8 1184.4,120.7 1185.3,126.1 1186.2,119.8 1187.1,126.7 1188.0,119.9 1188.9,126.4 1189.8,119.9 1190.7,127.9 1191.6,121.0 1192.5,127.2 1193.4,121.4 1194.3,126.3 1195.2,121.4 1196.1,126.8 1197.0,121.3 1197.9,127.5 1198.8,121.3 1199.7,126.8 1200.6,120.3 1201.5,126.5 1202.4,121.0 1203.3,126.8 1204.2,121.2 1205.1,126.2 1206.0,121.4 1206.9,128.1 1207.8,121.4 1208.7,127.3 1209.6,121.2 1210.5,126.6 1211.4,121.3 1212.3,126.2 1213.2,121.1 1214.1,126.7 1215.0,121.3 1215.9,126.8 1216.8,121.4 1217.7,127.2 1218.6,121.0 1219.5,126.1 1220.4,119.6 1221.3,126.1 1222.2,120.5 1222.6,107.1 1222.6,107.1 1223.0,140.5 1223.0,140.5 1223.4,134.1 1224.3,123.5 1225.1,134.4 1226.0,121.5 1226.9,135.0 1227.7,124.1 1228.6,135.0 1229.5,123.8 1230.3,134.9 1231.2,123.5 1232.1,133.7 1232.9,124.2 1233.8,134.7 1233.8,117.8 1234.8,118.6 1235.8,117.9 1235.8,125.3 1236.7,119.4 1237.6,126.4 1238.5,120.3 1239.4,125.6 1240.3,120.1 1241.2,125.2 1242.1,120.1 1243.0,125.2 1243.9,120.1 1244.8,125.4 1245.7,120.0 1246.6,125.5 1247.5,119.8 1248.4,126.2 1249.3,119.8 1250.2,127.3 1251.1,118.8 1252.0,126.5 1252.9,119.9 1253.8,125.4 1254.7,120.0 1255.6,126.2 1256.5,119.1 1257.4,125.8 1258.3,120.3 1259.2,125.5 1260.1,120.0 1261.0,126.1 1261.9,120.0 1262.8,125.9 1263.7,120.5 1264.6,126.3 1265.5,120.7 1266.4,126.8 1267.3,120.9 1268.2,126.8 1269.1,120.9 1270.0,126.7 1270.9,120.3 1271.8,126.0 1272.7,121.1 1273.6,125.7 1274.5,119.8 1275.4,126.6 1276.3,120.0 1277.2,126.9 1278.1,119.5 1279.0,126.9 1279.9,119.9 1280.8,126.5 1281.7,119.7 1282.6,125.5 1283.5,119.6 1284.4,125.6 1285.3,119.8 1286.2,125.8 1287.1,120.1 1288.0,125.5 1288.9,120.6 1289.8,125.5 1290.7,120.9 1291.6,125.8 1292.5,120.9 1293.4,126.3 1294.3,120.9 1295.2,125.5 1296.1,120.8 1297.0,126.0 1297.9,119.9 1298.8,126.1 1299.7,120.4 1300.6,125.4 1301.5,119.5 1302.4,125.7 1303.3,120.1 1304.2,125.6 1305.1,119.8 1306.0,125.5 1306.9,120.1 1307.8,126.6 1308.7,119.8 1309.6,125.9 1310.5,119.3 1311.4,125.9 1312.3,118.9 1313.2,126.6 1314.1,119.8 1315.0,125.5 1315.9,118.8 1316.8,125.5 1317.7,119.2 1318.6,126.5 1319.5,120.2 1320.4,125.0 1321.3,119.5 1322.2,126.1 1323.1,119.5 1324.0,125.4 1324.9,120.5 1325.8,126.1 1326.7,120.3 1327.6,125.8 1328.5,120.6 1329.4,126.9 1330.3,120.7 1331.2,125.6 1332.1,120.5 1333.0,125.6 1333.9,120.3 1334.8,127.0 1335.7,119.7 1336.6,126.0 1337.5,119.3 1338.4,125.8 1339.3,120.3 1340.2,126.6 1341.1,120.4 1342.0,127.1 1342.9,120.5 1343.8,127.1 1344.7,120.4 1345.6,126.2 1346.5,120.5 1347.4,126.3 1348.3,120.3 1349.2,126.2 1350.1,120.2 1351.0,126.8 1351.9,120.2 1352.8,125.5 1353.7,120.3 1354.6,125.2 1355.5,120.4 1356.4,125.5 1357.3,120.2 1358.2,125.4 1359.1,120.0 1360.0,125.8 1360.9,119.7 1361.8,125.8 1362.7,119.5 1363.6,125.5 1364.5,118.8 1365.4,125.4 1366.3,119.6 1367.2,125.6 1368.1,120.1 1369.0,126.5 1369.9,120.5 1370.8,125.7 1371.7,119.5 1372.6,125.7 1373.5,119.1 1374.4,125.0 1375.3,119.3 1376.2,124.9 1377.1,120.2 1378.0,126.3 1378.9,120.3 1379.8,125.8 1380.7,120.6 1381.6,125.7 1382.5,119.8 1383.4,125.8 1384.3,120.5 1385.2,126.1 1386.1,120.2 1387.0,125.6 1387.9,119.1 1388.8,125.6 1389.7,120.3 1390.6,125.8 1391.5,120.5 1392.4,126.1 1393.3,120.1 1394.2,125.8 1395.1,119.8 1396.0,126.1 1396.9,119.1 1397.8,125.0 1398.7,119.8 1399.6,126.3 1400.5,120.3 1401.4,126.4 1402.3,119.8 1403.2,125.2 1404.1,120.2 1405.0,125.9 1405.9,120.2 1406.8,124.9 1407.7,120.2 1408.6,125.1 1409.5,120.0 1410.4,125.9 1411.3,120.3 1412.2,125.1 1413.1,119.5 1414.0,125.1 1414.9,120.6 1415.8,125.0 1416.7,120.5 1417.6,125.5 1418.5,120.8 1419.4,125.6 1420.3,120.9 1421.2,126.6 1422.1,120.9 1423.0,125.9 1423.9,120.7 1424.8,125.5 1425.7,120.9 1426.6,126.5 1427.5,120.4 1428.4,125.9 1429.3,120.4 1430.2,125.8 1431.1,120.2 1432.0,126.5 1432.9,120.2 1433.8,126.1 1434.7,120.3 1435.6,125.3 1436.5,119.3 1437.4,125.5 1438.3,120.0 1439.2,126.7 1440.1,120.1 1441.0,127.0 1441.9,120.0 1442.8,125.4 1443.7,120.1 1444.6,125.6 1445.5,121.1 1446.4,127.1 1447.3,120.7 1448.2,126.3 1449.1,119.6 1450.0,126.8 1450.9,119.3 1451.8,125.7 1452.7,119.4 1453.6,125.8 1454.5,120.4 1455.4,125.6 1456.3,120.4 1457.2,126.8 1458.1,120.4 1459.0,125.7 1459.9,120.5 1460.8,126.3 1461.7,120.6 1462.6,125.4 1463.5,120.6 1464.4,125.7 1465.3,120.2 1466.2,125.9 1467.1,119.9 1468.0,125.7 1468.9,120.2 1469.8,126.3 1470.7,120.4 1471.6,125.8 1472.5,120.5 1473.4,125.7 1474.3,120.5 1475.2,125.3 1476.1,120.2 1477.0,125.4 1477.9,119.8 1478.8,125.3 1479.7,119.4 1480.6,125.3 1481.5,120.5 1482.4,126.1 1483.3,120.2 1484.2,126.4 1485.1,120.8 1486.0,125.7 1486.9,120.5 1487.8,126.1 1488.7,119.0 1489.6,126.3 1490.5,120.5 1491.4,126.5 1492.3,120.7 1493.2,126.9 1494.1,120.6 1495.0,126.2 1495.9,120.8 1496.8,126.3 1497.7,120.5 1498.6,125.5 1499.5,119.6 1500.4,126.2 1501.3,120.6 1502.2,126.3 1503.1,120.6 1504.0,126.0 1504.9,120.6 1505.8,125.9 1506.7,120.0 1507.6,126.4 1508.5,119.6 1509.4,125.4 1510.3,120.3 1511.2,125.8 1512.1,119.3 1513.0,125.1 1513.9,120.0 1514.8,125.4 1515.7,120.3 1516.6,125.3 1517.5,120.3 1518.4,125.6 1519.3,119.1 1520.2,126.8 1521.1,119.5 1522.0,125.1 1522.9,118.5 1523.8,125.1 1524.7,119.7 1525.6,125.5 1526.5,120.1 1527.4,125.5 1528.3,119.8 1529.2,125.4 1530.1,120.2 1531.0,125.0 1531.9,119.9 1532.8,126.1 1533.7,119.8 1534.6,125.4 1535.5,119.7 1536.4,125.8 1537.3,119.9 1538.2,125.3 1539.1,120.3 1540.0,125.6 1540.9,120.5 1541.8,125.7 1542.7,120.3 1543.6,126.2 1544.5,120.3 1545.4,125.9 1546.3,120.1 1547.2,126.0 1548.1,120.1 1549.0,125.9 1549.9,120.4 1550.8,125.3 1551.7,120.7 1552.6,125.9 1553.5,120.9 1554.4,126.3 1555.3,120.7 1556.2,126.4 1557.1,120.6 1558.0,125.6 1558.4,106.6 1558.4,106.6 1558.9,140.3 1558.9,140.3 1559.4,120.6 1560.3,126.9 1561.2,120.2 1562.1,126.1 1563.0,120.4 1563.9,126.3 1564.8,119.7 1565.7,126.0 1566.6,119.9 1567.5,125.9 1568.4,120.6 1569.3,126.1 1570.2,120.5 1571.1,126.0 1572.0,120.6 1572.9,126.1 1573.8,120.4 1574.7,125.3 1575.6,120.3 1576.5,125.3 1577.4,119.1 1578.3,126.1 1579.2,120.3 1580.1,126.7 1581.0,120.8 1581.9,126.1 1582.8,121.2 1583.7,126.3 1584.6,121.1 1585.5,127.4 1586.4,120.0 1587.3,126.5 1588.2,120.7 1589.1,126.6 1590.0,120.7 1590.9,126.1 1591.8,120.7 1592.7,127.4 1593.6,119.7 1594.5,126.9 1595.4,119.8 1596.3,126.8 1597.2,121.0 1598.1,126.9 1599.0,121.2 1599.9,125.7 1600.8,121.3 1601.8,126.2 1602.7,120.7 1603.6,126.1 1604.5,119.3 1605.4,125.5 1606.3,120.3 1607.2,126.2 1608.1,118.9 1609.0,125.8 1609.9,119.5 1610.8,126.6 1611.7,119.4 1612.6,125.7 1613.5,120.3 1614.4,125.9 1615.3,119.3 1616.2,126.6 1617.1,120.5 1618.0,125.7 1618.9,119.8 1619.8,125.8 1620.7,120.2 1621.6,125.7 1622.5,120.8 1623.4,125.9 1624.3,120.2 1625.2,125.7 1626.1,120.1 1627.0,126.1 1627.9,120.3 1628.8,126.0 1629.7,120.5 1630.6,125.6 1631.5,120.3 1632.4,126.3 1633.3,120.3 1634.2,125.4 1635.1,120.3 1636.0,125.5 1636.9,120.6 1637.8,125.5 1638.7,120.4 1639.6,125.7 1640.5,121.2 1641.4,126.4 1642.3,120.4 1643.2,126.4 1644.1,120.7 1645.0,127.1 1645.9,121.1 1646.8,125.8 1647.7,120.8 1648.6,127.5 1649.5,121.2 1650.4,126.5 1651.3,121.2 1652.2,126.8 1653.1,120.8 1654.0,125.8 1654.9,120.8 1655.8,125.8 1656.7,121.2 1657.6,126.0 1658.5,121.4 1659.4,126.6 1660.3,121.2 1661.2,126.9 1662.1,121.0 1663.0,126.3 1663.9,121.0 1664.8,126.0 1665.7,120.7 1666.6,127.1 1667.5,120.8 1668.4,127.2 1669.3,120.9 1670.2,126.8 1671.1,120.7 1672.0,126.5 1672.9,120.6 1673.8,128.0 1674.7,120.7 1675.6,126.8 1676.5,119.6 1677.4,126.5 1678.3,120.6 1679.2,125.7 1680.1,120.5 1681.0,126.1 1681.9,120.3 1682.8,126.1 1683.7,120.5 1684.6,125.8 1685.6,121.3 1686.5,126.6 1687.4,121.1 1688.3,126.2 1689.2,121.1 1690.1,126.2 1691.0,121.2 1691.9,125.7 1692.8,120.6 1693.7,126.5 1694.6,120.3 1695.5,125.2 1696.4,120.4 1697.3,125.1 1698.2,119.3 1699.1,125.3 1700.0,120.1 1700.9,125.5 1701.8,120.1 1702.7,126.9 1703.6,119.5 1704.5,125.8 1705.4,120.6 1706.3,125.6 1707.2,120.6 1708.1,125.8 1709.0,120.7 1709.9,125.9 1710.8,121.1 1711.7,126.0 1712.6,121.4 1713.5,126.2 1714.4,121.4 1715.3,126.2 1716.2,121.2 1717.1,126.3 1718.0,121.1 1718.9,126.4 1719.8,121.2 1720.7,127.4 1721.6,120.7 1722.5,127.6 1723.4,121.4 1724.3,126.3 1725.2,121.3 1726.1,126.5 1727.0,120.9 1727.9,127.0 1728.8,121.2 1729.7,127.6 1730.6,120.5 1731.5,126.9 1732.4,120.9 1733.3,125.9 1734.2,120.9 1735.1,126.4 1736.0,120.2 1736.9,126.6 1737.8,120.4 1738.7,126.4 1739.6,121.0 1740.5,126.3 1741.4,119.9 1742.3,127.2 1743.2,120.1 1744.1,126.8 1745.0,121.1 1745.9,126.3 1746.8,120.7 1747.7,126.0 1748.6,120.7 1749.5,125.9 1750.4,120.3 1751.3,125.7 1752.2,120.4 1753.1,126.1 1754.0,120.6 1754.9,126.0 1755.8,120.8 1756.7,125.4 1757.6,121.0 1758.5,126.4 1759.4,121.2 1760.3,126.0 1761.2,120.4 1762.1,126.1 1763.0,121.6 1763.9,127.9 1764.8,120.8 1765.7,126.7 1766.6,121.2 1767.5,126.7 1768.5,120.1 1769.4,125.8 1770.3,119.3 1771.2,125.9 1772.1,120.6 1773.0,126.2 1773.9,120.9 1774.8,126.2 1775.7,120.4 1776.6,126.3 1777.5,120.0 1778.4,125.5 1779.3,120.5 1780.2,126.5 1781.1,120.3 1782.0,126.5 1782.9,120.3 1783.8,125.9 1784.7,120.7 1785.6,126.1 1786.5,119.6 1787.4,126.2 1788.3,120.2 1789.2,125.3 1790.1,120.1 1791.0,125.1 1791.9,120.3 1792.8,125.3 1793.7,119.9 1794.6,125.2 1795.5,119.8 1796.4,125.3 1797.3,119.5 1798.2,126.1 1799.1,119.6 1800.0,125.9 1800.9,120.2 1801.8,126.3 1802.7,120.7 1803.6,125.9 1804.5,120.5 1805.4,126.0 1806.3,120.4 1807.2,126.9 1808.1,120.0 1809.0,126.4 1809.9,120.7 1810.8,126.1 1811.7,119.6 1812.6,126.1 1813.5,120.3 1814.4,126.3 1815.3,119.2 1816.2,126.0 1817.1,120.3 1818.0,126.9 1818.9,120.2 1819.8,127.0 1820.7,119.1 1821.6,125.9 1822.5,119.5 1823.4,125.4 1824.3,119.1 1825.2,125.4 1826.1,119.5 1827.0,126.1 1827.9,119.3 1828.8,124.8 1829.7,119.6 1830.6,125.3 1831.5,119.6 1832.4,124.9 1833.3,120.1 1834.2,124.7 1835.1,119.4 1836.0,125.9 1836.9,119.2 1837.8,125.0 1838.7,118.7 1839.6,125.8 1840.5,119.5 1841.4,125.0 1842.3,119.3 1843.2,125.6 1844.1,120.0 1845.0,124.6 1845.9,120.3 1846.8,125.9 1847.7,120.0 1848.6,125.1 1849.5,120.0 1850.4,124.7 1851.3,119.0 1852.3,124.6 1853.2,120.1 1854.1,125.1 1855.0,120.3 1855.9,125.1 1856.8,119.8 1857.7,124.9 1858.6,120.4 1859.5,125.2 1860.4,120.4 1861.3,125.4 1862.2,120.6 1863.1,125.3 1864.0,120.7 1864.9,126.5 1865.8,120.2 1866.7,125.6 1867.6,120.0 1868.5,125.4 1869.4,120.2 1870.3,126.1 1871.2,120.6 1872.1,126.7 1873.0,119.9 1873.9,126.8 1874.8,120.7 1875.7,126.0 1876.6,120.4 1877.5,126.6 1878.4,120.2 1879.3,125.6 1880.2,120.3 1881.1,125.8 1882.0,120.2 1882.9,126.0 1883.8,120.6 1884.7,126.2 1885.6,119.4 1886.5,126.2 1887.4,120.1 1888.3,127.4 1889.2,121.3 1890.1,126.1 1891.0,121.1 1891.9,126.4 1892.8,120.7 1893.7,126.6" fill="none" stroke="#0000ff" stroke-width="4.6" stroke-linejoin="round" stroke-linecap="round"/>
<polygon points="608.20,136.41 621.20,113.89 595.20,113.89" fill="none" stroke="#0000ff" stroke-width="4.7" stroke-linejoin="miter"/>
<polygon points="1335.65,138.41 1348.65,115.89 1322.65,115.89" fill="none" stroke="#0000ff" stroke-width="4.7" stroke-linejoin="miter"/>
<polyline points="216.0,542.8 216.9,546.7 217.8,543.0 218.7,547.5 219.6,542.7 220.5,546.9 221.4,543.2 222.3,547.0 223.2,542.6 224.1,547.3 225.0,542.2 225.9,546.6 226.8,541.9 227.7,545.9 228.6,542.3 229.5,546.2 230.4,542.3 231.3,546.4 232.2,542.3 233.1,546.6 234.0,542.3 234.9,546.5 235.8,542.5 236.7,547.5 237.6,542.7 238.5,547.0 239.4,543.1 240.3,547.6 241.2,542.9 242.1,547.1 243.0,542.4 243.9,546.7 244.8,542.0 245.7,547.0 246.6,541.8 247.5,546.1 248.4,542.6 249.3,546.0 250.2,542.7 251.1,546.5 252.0,542.5 252.9,547.3 253.8,542.6 254.7,546.8 255.6,542.6 256.5,547.4 257.4,542.5 258.3,546.7 259.2,542.5 260.1,546.8 261.0,542.9 261.9,547.1 262.8,543.3 263.7,547.1 264.6,543.3 265.5,547.0 266.4,542.7 267.3,546.7 268.2,542.5 269.1,547.2 270.0,543.1 270.9,547.9 271.8,543.3 272.7,547.2 273.6,543.3 274.5,547.0 275.4,543.0 276.3,547.2 277.2,542.8 278.1,547.3 279.0,542.8 279.9,547.0 280.8,543.4 281.7,547.3 282.6,543.2 283.5,547.1 284.4,543.1 285.3,547.2 286.2,543.7 287.1,547.7 288.0,542.6 288.9,547.9 289.8,543.0 290.7,547.2 291.6,542.5 292.5,548.0 293.4,543.1 294.3,547.2 295.2,542.6 296.1,547.1 297.0,543.1 297.9,547.4 298.8,542.9 299.7,546.9 300.6,542.8 301.5,546.7 302.4,542.1 303.3,546.5 304.2,542.7 305.1,546.7 306.0,542.6 306.9,547.3 307.8,541.7 308.7,546.8 309.6,541.8 310.5,547.9 311.4,542.0 312.3,547.2 313.2,543.1 314.1,546.7 315.0,543.4 315.9,548.1 316.8,543.2 317.7,548.1 318.6,542.4 319.5,546.8 320.4,542.9 321.3,546.7 322.2,543.0 323.1,546.8 324.0,542.4 324.9,546.8 325.8,543.0 326.7,546.6 327.6,542.9 328.5,546.7 329.4,542.5 330.3,547.3 331.2,542.5 332.1,547.2 333.0,543.3 333.9,546.9 334.8,543.2 335.7,547.3 336.6,543.1 337.5,546.8 338.4,541.9 339.3,546.5 340.2,542.5 341.1,546.5 342.0,542.5 342.9,547.0 343.8,542.6 344.7,546.5 345.6,542.7 346.5,546.9 347.4,542.7 348.3,547.2 349.2,542.4 350.1,546.4 351.0,542.2 351.9,546.7 352.8,542.7 353.7,546.9 354.6,543.0 355.5,546.6 356.4,542.3 357.3,546.7 358.2,542.9 359.1,546.7 360.0,542.7 360.9,547.0 361.8,542.8 362.7,546.7 363.6,543.1 364.5,546.7 365.4,542.8 366.3,546.9 367.2,542.2 368.1,546.7 369.0,542.5 369.9,546.5 370.8,542.6 371.7,547.1 372.6,542.1 373.5,546.9 374.4,542.7 375.3,547.4 376.2,542.4 377.1,546.6 378.0,541.9 378.9,545.9 379.8,542.4 380.7,546.8 381.6,542.9 382.5,546.6 383.4,542.7 384.3,547.0 385.2,542.7 386.1,547.1 387.0,542.8 387.9,546.9 388.8,543.3 389.7,546.9 390.6,543.2 391.5,546.6 392.4,542.5 393.3,546.9 394.2,542.1 395.1,547.0 396.0,542.7 396.9,548.0 397.8,542.7 398.7,546.5 399.6,542.8 400.5,546.5 401.4,543.0 402.3,547.5 403.2,542.5 404.1,548.0 405.0,542.5 405.9,547.5 406.8,542.3 407.7,546.8 408.6,542.5 409.5,546.9 410.4,542.0 411.3,547.5 412.2,542.5 413.1,546.7 414.0,542.7 414.9,546.6 415.8,543.0 416.7,546.5 417.6,541.8 418.5,546.1 419.4,542.1 420.3,545.9 421.2,542.1 422.1,545.8 423.0,542.3 423.9,546.2 424.8,542.4 425.7,547.1 426.6,541.8 427.5,547.0 428.4,542.3 429.3,546.6 430.2,542.2 431.1,546.6 432.0,541.5 432.9,546.1 433.8,542.3 434.7,546.4 435.6,542.3 436.5,546.6 437.4,542.4 438.3,546.9 439.2,542.3 440.1,546.8 441.0,542.0 441.9,546.3 442.8,541.6 443.7,546.2 444.6,542.2 445.5,546.3 446.4,542.2 447.3,546.5 448.2,542.1 449.1,546.3 450.0,542.2 450.9,546.1 451.8,542.1 452.7,546.9 453.6,541.9 454.5,546.8 455.4,542.6 456.3,547.8 457.2,542.7 458.1,547.9 459.0,542.8 459.9,546.9 460.8,542.0 461.7,546.9 462.6,542.1 463.5,547.9 464.4,542.8 465.3,547.1 466.2,542.8 467.1,547.2 468.0,542.9 468.9,547.2 469.8,543.0 470.7,547.2 471.6,542.8 472.5,547.1 473.4,542.7 474.3,547.1 475.2,542.7 476.1,547.0 477.0,542.7 477.9,546.8 478.8,542.5 479.7,546.8 480.6,542.5 481.5,546.4 482.4,542.3 483.3,546.4 484.2,542.8 485.1,546.7 486.0,542.0 486.9,546.8 487.8,542.4 488.7,547.0 489.6,542.0 490.5,547.4 491.4,542.3 492.3,546.2 493.2,542.2 494.1,546.1 495.0,542.4 495.9,545.8 496.8,542.0 497.7,545.6 498.6,541.9 499.5,546.1 500.4,541.0 501.3,546.1 502.2,541.6 503.1,545.5 504.0,541.7 504.9,546.3 505.8,542.0 506.7,546.0 507.6,542.5 508.5,546.9 509.4,542.7 510.3,546.5 511.2,542.9 512.1,546.4 513.0,542.9 513.9,546.4 514.8,542.2 515.7,546.5 516.6,542.7 517.5,547.3 518.4,542.2 519.3,546.7 520.2,543.1 521.1,546.7 522.0,542.4 522.9,547.5 523.8,542.6 524.7,546.8 525.6,542.1 526.5,546.6 527.4,542.5 528.3,547.7 529.2,542.6 530.1,546.8 531.0,542.7 531.9,546.4 532.8,542.2 533.7,546.3 534.6,541.6 535.5,546.3 536.4,542.5 537.3,546.3 538.2,542.6 539.1,546.7 540.0,542.5 540.9,547.6 541.8,543.1 542.7,546.8 543.6,543.2 544.5,546.7 545.4,543.2 546.3,546.6 547.2,542.9 548.1,546.9 549.0,542.5 549.9,546.5 550.8,542.0 551.7,546.4 552.6,542.6 552.6,428.2 553.5,425.3 554.3,424.7 555.2,421.8 556.1,422.6 556.9,419.1 557.8,421.9 558.6,418.1 559.5,420.8 560.4,416.3 561.2,421.2 562.1,415.4 562.1,427.7 562.9,427.2 563.6,427.8 563.6,415.0 564.5,419.9 565.4,415.1 566.3,419.9 567.2,415.2 568.1,420.5 569.0,415.3 569.9,420.5 570.8,415.2 571.7,421.8 572.6,415.5 573.5,422.2 574.4,415.2 575.3,421.5 576.2,416.3 577.1,421.5 578.0,416.9 578.9,421.3 579.8,416.4 580.7,421.7 581.6,416.0 582.5,420.5 583.4,416.0 584.3,421.1 585.2,416.0 586.1,421.4 587.0,415.7 587.9,421.6 588.8,415.4 589.7,421.1 590.6,415.7 591.5,420.9 592.4,415.9 593.3,422.3 594.2,416.0 595.1,422.4 596.0,416.2 596.9,422.1 597.8,415.0 598.7,421.3 599.6,415.4 600.5,421.4 601.4,415.9 602.3,421.6 603.2,415.9 604.1,421.8 605.0,416.1 605.9,422.8 606.8,415.9 607.7,422.5 608.6,416.4 609.5,422.3 610.4,416.6 611.3,421.6 612.2,415.5 613.1,421.5 614.0,416.1 614.9,421.7 615.8,416.3 616.7,421.6 617.6,415.5 618.5,421.6 619.4,416.1 620.3,421.6 621.2,415.6 622.1,420.9 623.0,416.3 623.9,421.5 624.8,416.1 625.7,421.1 626.6,416.3 627.5,421.4 628.4,416.1 629.3,421.7 630.2,416.5 631.1,421.3 632.0,416.7 632.9,422.5 633.8,416.8 634.7,421.4 635.6,416.8 636.5,421.1 637.4,415.7 638.3,421.0 639.2,416.7 640.1,422.3 641.0,416.7 641.9,422.2 642.8,416.8 643.7,421.4 644.6,416.5 645.5,421.5 646.4,415.2 647.3,421.7 648.2,416.6 649.1,422.5 650.0,416.8 650.9,421.2 651.8,416.9 652.7,421.0 653.6,416.2 654.5,421.0 655.4,416.8 656.3,421.5 657.2,416.6 658.1,421.6 659.0,416.3 659.9,422.1 660.8,416.2 661.7,422.2 662.6,415.9 663.5,421.6 664.4,414.4 665.3,420.7 666.2,415.1 667.1,420.9 668.0,416.0 668.9,421.4 669.8,415.7 670.7,420.8 671.6,416.5 672.5,421.1 673.4,416.0 674.3,420.9 675.2,414.8 676.1,420.6 677.0,414.6 677.9,420.7 678.8,414.8 679.7,420.2 680.6,415.1 681.5,420.3 682.4,415.1 683.3,420.7 684.2,415.3 685.1,420.9 686.0,415.9 686.9,421.9 687.8,415.2 688.7,420.9 689.6,415.9 690.5,420.7 691.4,415.9 692.3,420.7 693.2,416.1 694.1,421.0 695.0,415.0 695.9,421.2 696.8,416.0 697.7,420.8 698.6,416.2 699.5,421.4 700.4,416.2 701.3,421.1 702.2,416.3 703.1,421.0 704.0,415.6 704.9,422.1 705.8,415.8 706.7,421.0 707.6,415.4 708.5,420.3 709.4,414.8 710.3,420.4 711.2,416.1 712.1,421.6 713.0,415.4 713.9,421.9 714.8,415.1 715.7,421.8 716.6,416.0 717.5,420.6 718.4,415.2 719.3,420.7 720.2,414.9 721.1,419.9 722.0,415.1 722.9,420.1 723.8,415.1 724.7,420.3 725.5,415.2 726.4,420.4 727.3,415.0 728.2,421.1 729.1,415.2 730.0,421.3 730.9,415.8 731.8,421.1 732.7,415.7 733.6,420.9 734.5,414.7 735.4,421.5 736.3,415.3 737.2,421.8 738.1,415.9 739.0,421.2 739.9,415.6 740.8,420.9 741.7,416.1 742.6,421.3 743.5,415.2 744.4,421.0 745.3,416.2 746.2,421.4 747.1,416.2 748.0,421.6 748.9,415.3 749.8,422.0 750.7,415.4 751.6,421.9 752.5,416.3 753.4,421.7 754.3,415.6 755.2,422.3 756.1,416.4 757.0,421.6 757.9,415.9 758.8,421.1 759.7,416.1 760.6,420.8 761.5,415.7 762.4,421.2 763.3,415.9 764.2,421.2 765.1,416.1 766.0,421.4 766.9,415.8 767.8,422.0 768.7,415.7 769.6,420.5 770.5,415.5 771.4,420.4 772.3,415.3 773.2,421.2 774.1,415.3 775.0,420.4 775.9,415.5 776.8,422.0 777.7,415.7 778.6,422.0 779.5,415.5 780.4,420.4 781.3,415.4 782.2,420.2 783.1,415.3 784.0,420.9 784.9,415.4 785.8,420.8 786.7,415.0 787.6,420.3 788.5,415.1 789.4,420.5 790.3,416.1 791.2,420.9 792.1,416.1 793.0,421.0 793.9,415.3 794.8,421.8 795.7,416.2 796.6,420.9 797.5,416.1 798.4,421.6 799.3,415.8 800.2,420.7 801.1,415.8 802.0,421.7 802.9,415.9 803.8,420.8 804.7,415.7 805.6,420.8 806.5,416.1 807.4,421.6 808.3,415.5 809.2,420.5 810.1,415.1 811.0,420.7 811.9,416.0 812.8,420.8 813.7,416.0 814.6,420.9 815.5,415.6 816.4,420.9 817.3,415.5 818.2,422.0 819.1,416.0 820.0,422.0 820.9,416.1 821.8,422.2 822.7,416.3 823.6,422.5 824.5,416.0 825.4,421.3 826.3,416.5 827.2,421.3 828.1,416.0 829.0,421.4 829.9,415.7 830.8,421.2 831.7,415.0 832.6,421.8 833.5,415.6 834.4,421.0 835.3,414.7 836.2,419.8 837.1,415.0 838.0,420.0 838.9,415.1 839.8,421.5 840.7,416.2 841.6,420.8 842.5,415.6 843.4,421.7 844.3,416.4 845.2,421.0 846.1,416.1 847.0,422.0 847.9,416.5 848.8,421.7 849.7,416.4 850.6,421.1 851.5,416.6 852.4,420.7 853.3,416.0 854.2,420.3 855.1,414.7 856.0,421.0 856.9,415.8 857.8,420.4 858.7,415.7 859.6,420.1 860.5,415.5 861.4,420.0 862.3,415.4 863.2,420.9 864.1,415.0 865.0,420.3 865.9,415.0 866.8,420.4 867.7,415.0 868.6,420.4 869.5,416.1 870.4,420.9 871.3,416.1 872.2,421.2 873.1,416.2 874.0,421.0 874.9,415.9 875.8,420.8 876.7,414.8 877.6,420.7 878.5,415.6 879.4,420.4 880.3,415.5 881.2,421.7 882.1,415.6 883.0,421.6 883.9,414.7 884.8,421.2 885.7,414.5 886.6,420.7 887.5,415.3 887.5,550.4 887.5,550.4 888.0,547.4 888.9,545.0 889.8,547.2 890.8,544.8 891.7,547.3 892.6,544.8 893.5,547.3 894.4,544.9 895.4,547.4 896.3,544.1 897.2,547.2 897.7,537.2 897.7,537.2 898.2,551.2 898.2,551.2 898.8,542.4 899.7,546.6 900.6,541.5 901.5,546.9 902.4,542.1 903.3,546.9 904.2,542.0 905.1,546.1 906.0,542.5 906.9,546.1 907.8,542.7 908.7,546.2 909.6,542.4 910.5,546.4 911.4,542.4 912.3,546.5 913.2,542.2 914.1,546.2 915.0,541.8 915.9,546.8 916.8,542.1 917.7,546.0 918.6,541.7 919.5,546.2 920.4,542.0 921.3,546.5 922.2,541.2 923.1,546.0 924.0,542.0 924.9,545.4 925.8,542.3 926.7,545.7 927.6,541.7 928.5,546.0 929.4,542.2 930.3,547.3 931.2,542.6 932.1,547.3 933.0,542.9 933.9,546.8 934.8,542.6 935.7,546.5 936.6,541.9 937.5,546.4 938.4,542.5 939.3,546.3 940.2,542.4 941.1,546.4 942.0,542.4 942.9,546.2 943.8,542.6 944.7,546.7 945.6,542.1 946.5,546.0 947.4,541.9 948.3,546.3 949.2,541.9 950.1,546.4 951.0,542.0 951.9,546.7 952.8,542.4 953.7,546.3 954.6,542.1 955.5,546.3 956.4,542.4 957.3,546.9 958.2,541.7 959.1,546.7 960.0,542.2 960.9,546.7 961.8,542.2 962.7,547.2 963.6,542.5 964.5,546.2 965.4,542.7 966.3,545.8 967.2,542.4 968.1,545.8 969.0,541.7 969.9,546.1 970.8,542.3 971.7,546.7 972.6,541.8 973.5,546.6 974.4,541.7 975.3,545.7 976.2,541.9 977.1,546.8 978.0,542.7 978.9,546.5 979.8,542.5 980.7,546.7 981.6,543.0 982.5,546.9 983.4,542.8 984.3,547.0 985.2,542.6 986.1,546.9 987.0,542.5 987.9,547.3 988.8,542.6 989.7,546.6 990.6,542.6 991.5,546.3 992.4,542.6 993.3,546.0 994.2,542.7 995.1,546.1 996.0,542.3 996.9,546.2 997.8,542.0 998.7,546.3 999.6,541.9 1000.5,546.5 1001.4,541.8 1002.3,546.8 1003.2,542.0 1004.1,546.0 1005.0,541.9 1005.9,545.9 1006.8,542.0 1007.7,546.7 1008.6,542.1 1009.5,546.1 1010.4,542.2 1011.3,546.0 1012.2,542.2 1013.1,546.0 1014.0,541.8 1014.9,546.2 1015.8,542.0 1016.7,546.8 1017.6,542.3 1018.5,546.0 1019.4,541.7 1020.3,546.4 1021.2,541.9 1022.1,546.7 1023.0,542.1 1023.9,547.2 1024.8,542.4 1025.7,546.7 1026.6,543.1 1027.5,546.9 1028.4,543.1 1029.3,546.9 1030.2,543.1 1031.1,546.6 1032.0,543.1 1032.9,546.5 1033.8,543.2 1034.7,546.8 1035.6,543.0 1036.5,546.6 1037.4,542.8 1038.3,547.0 1039.2,542.0 1040.1,546.4 1041.0,542.3 1041.9,546.5 1042.8,541.5 1043.7,547.1 1044.6,541.7 1045.5,546.6 1046.4,542.4 1047.3,546.0 1048.2,542.5 1049.1,546.3 1050.0,542.3 1050.9,546.2 1051.8,541.5 1052.7,546.8 1053.6,542.5 1054.5,546.3 1055.4,541.9 1056.3,546.3 1057.2,542.7 1058.1,546.7 1059.0,543.0 1059.9,546.7 1060.8,543.1 1061.8,546.7 1062.7,543.1 1063.6,546.9 1064.5,542.8 1065.4,547.1 1066.3,542.0 1067.2,546.6 1068.1,542.8 1069.0,546.6 1069.9,542.6 1070.8,547.8 1071.7,542.8 1072.6,547.1 1073.5,541.8 1074.4,546.7 1075.3,542.8 1076.2,546.6 1077.1,542.9 1078.0,546.4 1078.9,542.2 1079.8,546.3 1080.7,542.3 1081.6,546.7 1082.5,542.1 1083.4,545.8 1084.3,541.7 1085.2,545.6 1086.1,541.9 1087.0,546.8 1087.9,541.5 1088.8,546.3 1089.7,541.9 1090.6,546.4 1091.5,542.7 1092.4,546.7 1093.3,542.7 1094.2,546.5 1095.1,542.7 1096.0,546.0 1096.9,542.6 1097.8,545.8 1098.7,542.5 1099.6,546.1 1100.5,541.5 1101.4,545.9 1102.3,541.7 1103.2,545.8 1104.1,541.8 1105.0,546.3 1105.9,542.0 1106.8,545.9 1107.7,541.4 1108.6,546.3 1109.5,542.0 1110.4,545.9 1111.3,541.8 1112.2,545.8 1113.1,542.7 1114.0,546.2 1114.9,542.5 1115.8,546.6 1116.7,542.4 1117.6,546.1 1118.5,542.3 1119.4,546.4 1120.3,541.7 1121.2,546.3 1122.1,542.0 1123.0,546.2 1123.9,542.1 1124.8,546.2 1125.7,542.3 1126.6,546.0 1127.5,541.8 1128.4,546.2 1129.3,542.5 1130.2,546.7 1131.1,542.8 1132.0,546.7 1132.9,543.3 1133.8,546.8 1134.7,543.6 1135.6,547.4 1136.5,543.4 1137.4,547.7 1138.3,542.5 1139.2,546.4 1140.1,542.0 1141.0,546.2 1141.9,541.9 1142.8,546.7 1143.7,542.1 1144.6,547.8 1145.5,542.1 1146.4,547.4 1147.3,542.1 1148.2,546.8 1149.1,542.1 1150.0,546.6 1150.9,542.7 1151.8,546.4 1152.7,542.3 1153.6,547.5 1154.5,542.3 1155.4,546.7 1156.3,541.6 1157.2,547.0 1158.1,541.7 1159.0,546.7 1159.9,542.6 1160.8,547.0 1161.7,542.0 1162.6,546.4 1163.5,541.8 1164.4,546.8 1165.3,542.5 1166.2,546.2 1167.1,542.4 1168.0,547.0 1168.9,542.2 1169.8,546.5 1170.7,542.3 1171.6,547.1 1172.5,542.3 1173.4,547.0 1174.3,542.4 1175.2,545.7 1176.1,542.2 1177.0,545.9 1177.9,542.0 1178.8,546.0 1179.7,542.3 1180.6,546.9 1181.5,542.4 1182.4,546.1 1183.3,541.7 1184.2,546.1 1185.1,542.2 1186.0,546.2 1186.9,542.2 1187.8,546.5 1188.7,541.8 1189.6,546.0 1190.5,542.4 1191.4,546.0 1192.3,542.4 1193.2,545.9 1194.1,542.5 1195.0,546.1 1195.9,542.7 1196.8,546.2 1197.7,542.7 1198.6,546.3 1199.5,542.4 1200.4,546.5 1201.3,542.7 1202.2,546.4 1203.1,542.0 1204.0,546.2 1204.9,542.6 1205.8,546.1 1206.7,541.9 1207.6,546.8 1208.5,542.6 1209.4,546.6 1210.3,542.7 1211.2,546.9 1212.1,542.7 1213.0,546.3 1213.9,542.5 1214.8,546.4 1215.7,541.9 1216.6,546.5 1217.5,542.5 1218.4,546.1 1219.3,542.6 1220.2,546.7 1221.1,542.7 1222.0,546.0 1222.9,542.4 1222.9,668.9 1222.9,668.9 1225.3,647.4 1226.2,650.3 1227.1,654.1 1228.0,655.5 1228.9,658.8 1229.8,659.1 1230.7,662.3 1231.6,661.8 1232.5,664.8 1233.4,663.3 1234.3,666.8 1235.2,664.4 1236.1,668.2 1237.0,665.3 1238.0,669.4 1238.9,666.5 1239.8,670.5 1240.7,667.0 1241.6,671.1 1242.5,667.2 1243.4,671.5 1244.3,667.3 1245.2,672.0 1246.1,667.1 1247.0,672.6 1247.9,668.0 1248.8,672.3 1248.8,668.4 1249.7,673.8 1250.6,667.9 1251.5,672.9 1252.4,668.3 1253.3,672.2 1254.2,668.2 1255.1,672.0 1256.0,667.4 1256.9,672.0 1257.8,667.4 1258.7,671.8 1259.6,667.2 1260.5,672.2 1261.4,667.7 1262.3,671.7 1263.2,666.5 1264.1,672.3 1265.0,667.7 1265.9,672.2 1266.8,668.1 1267.7,672.4 1268.6,668.2 1269.5,672.5 1270.4,667.6 1271.3,672.4 1272.2,667.2 1273.1,672.0 1274.0,667.6 1274.9,672.2 1275.8,667.5 1276.7,672.1 1277.6,667.6 1278.5,672.0 1279.4,667.2 1280.3,672.3 1281.2,667.2 1282.1,673.1 1283.0,667.9 1283.9,672.8 1284.8,667.1 1285.7,672.9 1286.6,667.9 1287.5,672.0 1288.4,668.2 1289.3,672.2 1290.2,667.9 1291.1,672.3 1292.0,667.8 1292.9,672.3 1293.8,668.2 1294.7,672.8 1295.6,668.4 1296.5,673.0 1297.4,669.0 1298.3,673.2 1299.2,669.4 1300.1,673.6 1301.1,669.4 1302.0,673.7 1302.9,669.3 1303.8,673.5 1304.7,669.1 1305.6,673.4 1306.5,669.1 1307.4,674.1 1308.3,668.3 1309.2,673.9 1310.1,667.8 1311.0,673.3 1311.9,668.4 1312.8,672.5 1313.7,668.5 1314.6,673.1 1315.5,668.9 1316.4,672.8 1317.3,669.0 1318.2,672.6 1319.1,668.9 1320.0,672.6 1320.9,668.9 1321.8,672.8 1322.7,669.0 1323.6,673.0 1324.5,669.0 1325.4,673.6 1326.3,668.9 1327.2,673.0 1328.1,668.8 1329.0,672.5 1329.9,668.5 1330.8,672.2 1331.7,668.0 1332.6,672.0 1333.5,667.4 1334.4,672.5 1335.3,667.9 1336.2,672.3 1337.1,667.8 1338.0,672.7 1338.9,667.0 1339.8,672.8 1340.7,667.6 1341.6,672.4 1342.5,667.6 1343.4,672.7 1344.3,667.4 1345.2,673.7 1346.1,668.2 1347.0,673.8 1347.9,668.2 1348.8,673.2 1349.7,668.0 1350.6,672.7 1351.5,668.4 1352.4,672.8 1353.3,668.6 1354.2,672.4 1355.1,667.9 1356.0,673.0 1356.9,668.4 1357.8,672.1 1358.7,668.5 1359.6,672.0 1360.5,667.9 1361.4,673.1 1362.3,668.2 1363.2,672.6 1364.1,667.9 1365.0,672.5 1365.9,667.9 1366.8,672.7 1367.7,668.9 1368.6,672.6 1369.5,668.3 1370.4,672.6 1371.3,668.2 1372.2,673.0 1373.1,668.6 1374.0,673.2 1374.9,669.3 1375.8,672.7 1376.7,669.4 1377.6,672.7 1378.5,668.9 1379.4,673.2 1380.3,669.5 1381.2,673.5 1382.1,668.7 1383.0,673.3 1383.9,669.5 1384.8,673.4 1385.7,669.1 1386.6,673.9 1387.5,669.3 1388.4,672.8 1389.3,668.4 1390.2,673.2 1391.1,668.3 1392.0,673.0 1392.9,668.3 1393.8,672.5 1394.7,668.6 1395.6,672.4 1396.5,668.3 1397.4,673.2 1398.3,667.5 1399.2,672.6 1400.1,668.1 1401.0,672.6 1401.9,668.1 1402.8,673.6 1403.8,668.3 1404.7,672.7 1405.6,668.1 1406.5,672.6 1407.4,668.7 1408.3,673.2 1409.2,668.6 1410.1,672.8 1411.0,669.4 1411.9,673.2 1412.8,668.7 1413.7,673.9 1414.6,669.3 1415.5,673.7 1416.4,669.0 1417.3,673.5 1418.2,668.5 1419.1,673.0 1420.0,668.8 1420.9,672.9 1421.8,669.0 1422.7,673.1 1423.6,669.0 1424.5,673.4 1425.4,668.4 1426.3,673.1 1427.2,668.9 1428.1,672.9 1429.0,668.0 1429.9,673.3 1430.8,669.0 1431.7,673.4 1432.6,669.3 1433.5,673.4 1434.4,669.1 1435.3,674.2 1436.2,668.4 1437.1,673.3 1438.0,669.0 1438.9,673.6 1439.8,668.4 1440.7,674.4 1441.6,668.9 1442.5,673.9 1443.4,669.6 1444.3,673.3 1445.2,669.3 1446.1,672.8 1447.0,668.8 1447.9,673.7 1448.8,668.7 1449.7,672.9 1450.6,668.5 1451.5,672.7 1452.4,668.8 1453.3,672.8 1454.2,669.0 1455.1,672.8 1456.0,669.2 1456.9,672.8 1457.8,668.7 1458.7,673.5 1459.6,669.3 1460.5,673.6 1461.4,668.9 1462.3,673.8 1463.2,669.3 1464.1,673.9 1465.0,669.4 1465.9,673.9 1466.8,668.2 1467.7,674.7 1468.6,668.9 1469.5,673.4 1470.4,668.3 1471.3,672.7 1472.2,669.2 1473.1,673.0 1474.0,668.8 1474.9,672.8 1475.8,668.5 1476.7,673.0 1477.6,668.4 1478.5,672.2 1479.4,668.2 1480.3,672.7 1481.2,668.4 1482.1,672.2 1483.0,668.7 1483.9,672.9 1484.8,668.7 1485.7,673.0 1486.6,668.1 1487.5,673.2 1488.4,667.7 1489.3,672.7 1490.2,668.5 1491.1,673.0 1492.0,668.5 1492.9,673.3 1493.8,668.4 1494.7,673.4 1495.6,668.7 1496.5,674.2 1497.4,668.8 1498.3,673.5 1499.2,668.7 1500.1,674.2 1501.0,668.6 1501.9,673.8 1502.8,668.6 1503.7,672.7 1504.6,668.6 1505.5,672.8 1506.4,668.2 1507.4,672.8 1508.3,668.2 1509.2,672.7 1510.1,668.5 1511.0,672.5 1511.9,668.0 1512.8,672.7 1513.7,668.4 1514.6,673.6 1515.5,668.1 1516.4,672.9 1517.3,667.6 1518.2,672.5 1519.1,668.1 1520.0,672.7 1520.9,668.5 1521.8,672.5 1522.7,668.7 1523.6,672.3 1524.5,668.4 1525.4,672.8 1526.3,668.8 1527.2,673.2 1528.1,668.1 1529.0,673.5 1529.9,669.2 1530.8,674.3 1531.7,669.2 1532.6,673.6 1533.5,669.5 1534.4,673.6 1535.3,669.0 1536.2,673.6 1537.1,668.3 1538.0,673.4 1538.9,668.6 1539.8,673.3 1540.7,668.4 1541.6,672.8 1542.5,668.4 1543.4,672.6 1544.3,668.3 1545.2,673.5 1546.1,668.5 1547.0,674.0 1547.9,667.9 1548.8,674.1 1549.7,668.8 1550.6,674.3 1551.5,669.4 1552.4,673.5 1553.3,669.0 1554.2,674.0 1555.1,667.8 1556.0,673.6 1556.9,668.9 1557.8,673.0 1558.7,669.1 1558.7,535.3 1559.8,534.9 1560.9,535.2 1560.9,534.4 1561.8,537.5 1562.7,537.9 1563.6,540.3 1564.4,539.9 1565.3,542.2 1566.2,540.9 1567.1,543.3 1568.0,541.5 1568.9,544.4 1569.8,541.6 1570.7,544.5 1571.5,541.4 1572.4,545.5 1573.3,541.8 1574.2,546.1 1575.1,542.2 1576.0,545.5 1576.9,541.6 1577.7,545.7 1578.6,542.3 1579.5,546.2 1580.4,541.8 1580.4,545.8 1581.3,541.7 1582.2,546.1 1583.1,542.0 1584.0,546.1 1584.9,542.0 1585.8,546.1 1586.7,542.1 1587.6,545.9 1588.5,542.0 1589.4,545.5 1590.3,541.2 1591.2,546.3 1592.1,541.7 1593.0,545.8 1593.9,542.2 1594.8,545.7 1595.7,542.6 1596.6,546.4 1597.5,542.6 1598.4,546.8 1599.3,541.8 1600.2,546.8 1601.1,542.6 1602.0,547.5 1602.9,542.9 1603.8,547.0 1604.7,542.9 1605.6,547.1 1606.5,543.0 1607.4,546.9 1608.3,542.7 1609.2,546.4 1610.1,541.7 1611.0,545.5 1611.9,541.3 1612.8,545.3 1613.7,542.0 1614.6,545.5 1615.5,541.9 1616.4,546.6 1617.3,542.2 1618.2,546.0 1619.1,542.2 1620.0,546.6 1620.9,542.3 1621.8,546.2 1622.7,542.2 1623.6,546.6 1624.5,542.3 1625.4,545.7 1626.3,542.3 1627.2,545.6 1628.1,542.2 1629.0,545.3 1629.9,541.4 1630.8,545.9 1631.7,541.7 1632.6,545.4 1633.5,541.5 1634.4,545.3 1635.3,540.9 1636.2,545.6 1637.1,541.4 1638.0,545.8 1638.9,541.0 1639.8,546.5 1640.7,541.8 1641.6,545.9 1642.5,541.8 1643.4,545.9 1644.3,542.1 1645.2,546.1 1646.1,542.3 1647.0,546.2 1647.9,542.3 1648.8,546.5 1649.7,542.2 1650.6,546.0 1651.5,541.8 1652.4,545.7 1653.3,542.4 1654.2,546.4 1655.1,542.1 1656.0,546.0 1656.9,541.9 1657.8,546.0 1658.7,542.4 1659.6,547.1 1660.5,542.5 1661.4,547.5 1662.3,542.8 1663.2,547.0 1664.1,542.7 1665.0,546.8 1665.9,542.5 1666.8,546.1 1667.7,542.1 1668.6,546.5 1669.5,542.2 1670.4,547.0 1671.3,542.2 1672.2,546.0 1673.1,541.9 1674.0,547.1 1674.9,542.5 1675.8,546.8 1676.7,542.7 1677.6,547.5 1678.5,542.7 1679.4,547.0 1680.3,542.9 1681.2,547.4 1682.1,542.9 1683.0,546.7 1683.9,543.0 1684.8,546.5 1685.7,542.9 1686.6,547.0 1687.5,543.0 1688.4,546.4 1689.3,542.8 1690.2,546.5 1691.1,542.6 1692.0,546.3 1692.9,542.6 1693.8,546.2 1694.7,542.7 1695.6,546.3 1696.5,542.3 1697.4,547.3 1698.3,542.7 1699.2,547.1 1700.1,542.5 1701.0,546.2 1701.9,542.8 1702.8,546.3 1703.7,543.0 1704.6,546.1 1705.5,543.1 1706.4,546.7 1707.3,543.0 1708.2,546.5 1709.1,542.2 1710.0,546.5 1710.9,542.2 1711.8,547.1 1712.7,542.2 1713.6,546.6 1714.5,542.3 1715.4,546.2 1716.3,541.8 1717.2,546.3 1718.1,542.7 1719.0,546.7 1719.9,543.0 1720.8,546.7 1721.7,542.7 1722.6,546.3 1723.5,542.5 1724.4,546.3 1725.3,542.7 1726.2,547.6 1727.1,542.8 1728.0,546.8 1728.9,542.1 1729.8,546.6 1730.7,543.0 1731.6,546.2 1732.5,542.8 1733.4,546.5 1734.3,542.8 1735.2,546.6 1736.1,541.8 1737.1,546.4 1738.0,543.0 1738.9,546.7 1739.8,542.7 1740.7,547.6 1741.6,543.3 1742.5,547.8 1743.4,542.5 1744.3,546.7 1745.2,543.2 1746.1,546.9 1747.0,543.4 1747.9,547.0 1748.8,543.4 1749.7,547.1 1750.6,543.3 1751.5,547.1 1752.4,543.0 1753.3,546.8 1754.2,542.7 1755.1,547.0 1756.0,542.9 1756.9,546.8 1757.8,543.0 1758.7,546.2 1759.6,542.6 1760.5,545.8 1761.4,542.1 1762.3,545.6 1763.2,541.5 1764.1,545.6 1765.0,542.2 1765.9,545.7 1766.8,541.7 1767.7,545.9 1768.6,542.3 1769.5,546.1 1770.4,542.2 1771.3,546.2 1772.2,541.6 1773.1,546.6 1774.0,541.5 1774.9,546.3 1775.8,541.7 1776.7,547.0 1777.6,541.4 1778.5,546.2 1779.4,541.1 1780.3,546.2 1781.2,541.9 1782.1,545.8 1783.0,541.1 1783.9,545.9 1784.8,541.4 1785.7,546.3 1786.6,540.7 1787.5,546.0 1788.4,540.6 1789.3,545.4 1790.2,540.4 1791.1,545.5 1792.0,540.6 1792.9,545.4 1793.8,541.2 1794.7,545.7 1795.6,541.9 1796.5,545.8 1797.4,542.1 1798.3,545.8 1799.2,541.7 1800.1,546.0 1801.0,542.0 1801.9,545.5 1802.8,541.5 1803.7,545.4 1804.6,541.4 1805.5,545.4 1806.4,541.9 1807.3,545.9 1808.2,542.1 1809.1,545.7 1810.0,542.0 1810.9,545.7 1811.8,541.9 1812.7,545.6 1813.6,542.3 1814.5,545.7 1815.4,542.5 1816.3,546.0 1817.2,542.2 1818.1,546.2 1819.0,542.1 1819.9,546.2 1820.8,542.3 1821.7,546.2 1822.6,542.4 1823.5,546.0 1824.4,542.0 1825.3,546.1 1826.2,542.4 1827.1,545.9 1828.0,542.3 1828.9,545.9 1829.8,541.4 1830.7,546.2 1831.6,542.3 1832.5,547.1 1833.4,541.4 1834.3,547.0 1835.2,542.2 1836.1,546.7 1837.0,542.1 1837.9,547.4 1838.8,542.0 1839.7,546.4 1840.6,541.5 1841.5,546.9 1842.4,542.1 1843.3,546.4 1844.2,542.3 1845.1,546.5 1846.0,542.1 1846.9,546.6 1847.8,541.8 1848.7,546.3 1849.6,542.5 1850.5,546.2 1851.4,542.8 1852.3,546.1 1853.2,542.8 1854.1,546.4 1855.0,542.8 1855.9,546.8 1856.8,542.5 1857.7,547.4 1858.6,543.4 1859.5,547.1 1860.4,542.6 1861.3,546.4 1862.2,542.3 1863.1,546.2 1864.0,542.2 1864.9,546.1 1865.8,541.6 1866.7,545.7 1867.6,541.6 1868.5,546.4 1869.4,542.6 1870.3,546.3 1871.2,542.6 1872.1,546.5 1873.0,542.6 1873.9,547.0 1874.8,542.8 1875.7,546.5 1876.6,543.0 1877.5,546.6 1878.4,543.0 1879.3,546.7 1880.2,543.1 1881.1,546.5 1882.0,542.6 1882.9,546.5 1883.8,543.0 1884.7,546.9 1885.6,543.1 1886.5,547.0 1887.4,543.0 1888.3,546.8 1889.2,542.8 1890.1,546.2 1891.0,542.0 1891.9,546.0 1892.8,542.4 1893.7,546.0" fill="none" stroke="#ff00ff" stroke-width="4.6" stroke-linejoin="round" stroke-linecap="round"/>
<circle cx="315.65" cy="542.05" r="11.5" fill="none" stroke="#ff00ff" stroke-width="4.7"/>
<circle cx="752.65" cy="416.30" r="11.5" fill="none" stroke="#ff00ff" stroke-width="4.7"/>
<circle cx="1189.50" cy="542.05" r="11.5" fill="none" stroke="#ff00ff" stroke-width="4.7"/>
<circle cx="1626.30" cy="544.00" r="11.5" fill="none" stroke="#ff00ff" stroke-width="4.7"/>
<text class="tk" transform="translate(195.40,59.60) scale(0.985,1.017)" text-anchor="end">300</text>
<text class="tk" transform="translate(195.40,185.86) scale(0.985,1.017)" text-anchor="end">225</text>
<text class="tk" transform="translate(195.40,312.11) scale(0.985,1.017)" text-anchor="end">150</text>
<text class="tk" transform="translate(195.40,438.37) scale(0.985,1.017)" text-anchor="end">75</text>
<text class="tk" transform="translate(195.40,564.62) scale(0.985,1.017)" text-anchor="end">0</text>
<text class="tk" transform="translate(195.40,690.88) scale(0.985,1.017)" text-anchor="end">-75</text>
<text class="tk" transform="translate(195.40,817.13) scale(0.985,1.017)" text-anchor="end">-150</text>
<text class="tk" transform="translate(214.70,950.70) scale(0.985,1.017)" text-anchor="middle">0.5</text>
<text class="tk" transform="translate(549.60,950.70) scale(0.985,1.017)" text-anchor="middle">1</text>
<text class="tk" transform="translate(885.20,950.70) scale(0.985,1.017)" text-anchor="middle">1.5</text>
<text class="tk" transform="translate(1220.80,950.70) scale(0.985,1.017)" text-anchor="middle">2</text>
<text class="tk" transform="translate(1556.10,950.70) scale(0.985,1.017)" text-anchor="middle">2.5</text>
<text class="tk" transform="translate(1891.00,950.70) scale(0.985,1.017)" text-anchor="middle">3</text>
<text class="lb" transform="translate(1054.50,1027.00)" text-anchor="middle">Time (s)</text>
<text class="lb" transform="translate(72.00,460.50) rotate(-90)" text-anchor="middle">Active Power (kW)</text>
<rect x="1037.7" y="749.5" width="819.0" height="91.25" fill="#fff" stroke="#262626" stroke-width="2"/>
<polygon points="1092.05,779.69 1105.05,802.21 1079.05,802.21" fill="none" stroke="#ff0000" stroke-width="4.7" stroke-linejoin="miter"/>
<polygon points="1269.30,779.20 1280.90,794.60 1269.30,810.00 1257.70,794.60" fill="none" stroke="#000" stroke-width="4.7" stroke-linejoin="miter"/>
<polygon points="1469.80,809.21 1482.80,786.69 1456.80,786.69" fill="none" stroke="#0000ff" stroke-width="4.7" stroke-linejoin="miter"/>
<circle cx="1706.20" cy="793.10" r="11.5" fill="none" stroke="#ff00ff" stroke-width="4.7"/>
<text class="lg" transform="translate(1145.20,810.60) scale(1.155,1.0)" text-anchor="start" font-size="71.5px" stroke="#fff" stroke-width="0.8">P</text><text class="lg" x="1184.5" y="819.6" font-size="45.5px">g</text>
<text class="lg" transform="translate(1322.50,810.60) scale(1.155,1.0)" text-anchor="start" font-size="71.5px" stroke="#fff" stroke-width="0.8">P</text><text class="lg" x="1361.5 1386.5" y="819.6" font-size="45.5px">dg</text>
<text class="lg" transform="translate(1523.20,810.60) scale(1.155,1.0)" text-anchor="start" font-size="71.5px" stroke="#fff" stroke-width="0.8">P</text><text class="lg" x="1562.5 1577.5 1602.5 1625.5" y="819.6" font-size="45.5px">load</text>
<text class="lg" transform="translate(1760.80,810.60) scale(1.155,1.0)" text-anchor="start" font-size="71.5px" stroke="#fff" stroke-width="0.8">P</text><text class="lg" x="1802.6 1822.5" y="819.6" font-size="45.5px">sc</text>
</svg></body></html>
